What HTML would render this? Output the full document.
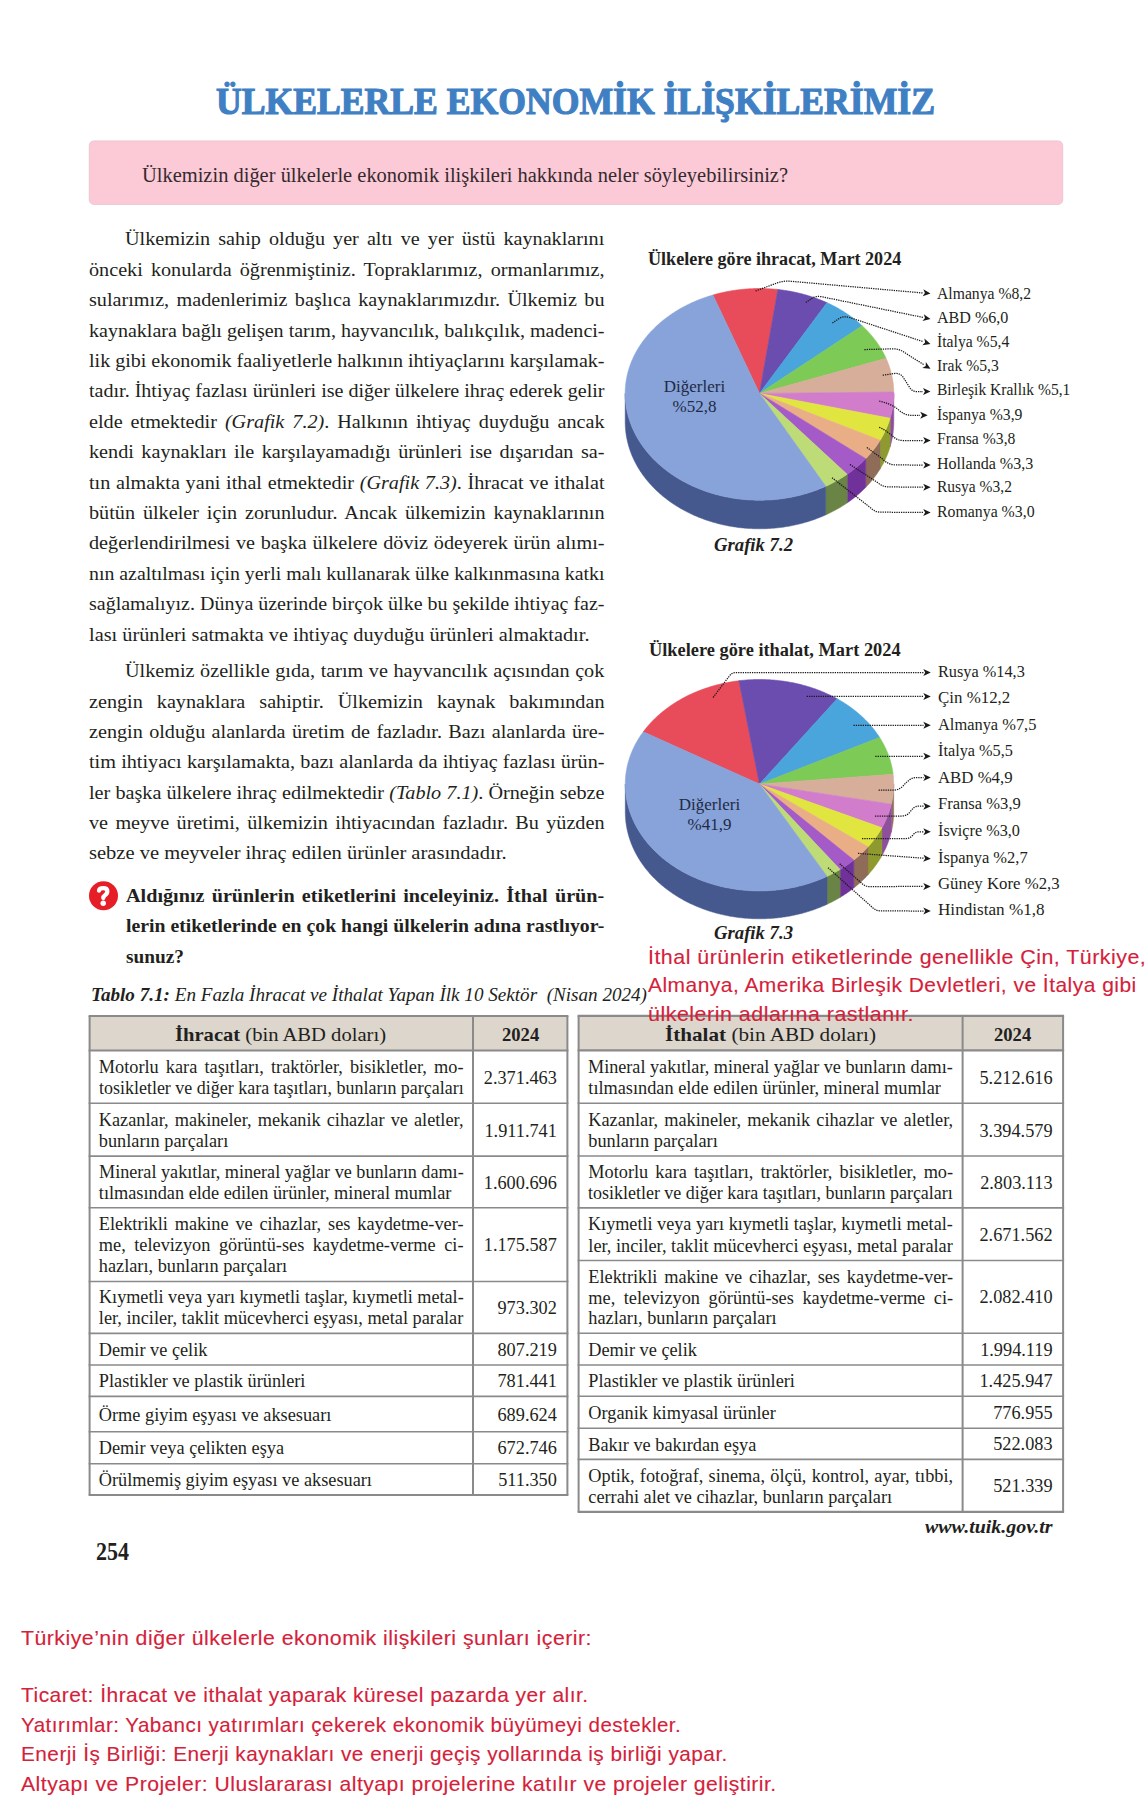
<!DOCTYPE html>
<html><head><meta charset="utf-8"><title>page</title>
<style>
html,body{margin:0;padding:0;background:#ffffff;}
body{width:1148px;height:1816px;position:relative;overflow:hidden;}
.t{position:absolute;white-space:nowrap;}
.j{white-space:normal;text-align:justify;text-align-last:justify;}
i{font-style:italic}
</style></head><body>
<svg width="1148" height="1816" viewBox="0 0 1148 1816" style="position:absolute;left:0;top:0">
<rect x="89.3" y="140.9" width="973.4" height="63.5" rx="4.5" ry="4.5" fill="#fccad7" stroke="#eac5cf" stroke-width="0.9"/>
<path d="M893.80 393.40 L893.79 394.33 L893.78 395.26 L893.75 396.18 L893.72 397.11 L893.67 398.04 L893.62 398.97 L893.55 399.89 L893.48 400.82 L893.39 401.74 L893.29 402.67 L893.19 403.59 L893.07 404.52 L892.94 405.44 L892.81 406.36 L892.66 407.28 L892.50 408.20 L892.34 409.12 L892.16 410.04 L891.97 410.95 L891.78 411.87 L891.57 412.78 L891.35 413.69 L891.13 414.60 L890.89 415.51 L890.64 416.42 L890.39 417.32 L890.12 418.23 L890.12 446.83 L890.39 445.92 L890.64 445.02 L890.89 444.11 L891.13 443.20 L891.35 442.29 L891.57 441.38 L891.78 440.47 L891.97 439.55 L892.16 438.64 L892.34 437.72 L892.50 436.80 L892.66 435.88 L892.81 434.96 L892.94 434.04 L893.07 433.12 L893.19 432.19 L893.29 431.27 L893.39 430.34 L893.48 429.42 L893.55 428.49 L893.62 427.57 L893.67 426.64 L893.72 425.71 L893.75 424.78 L893.78 423.86 L893.79 422.93 L893.80 422.00 Z" fill="#8e509c" stroke="#8e509c" stroke-width="0.5"/>
<path d="M890.12 418.23 L889.85 419.11 L889.57 419.98 L889.29 420.86 L888.99 421.73 L888.68 422.60 L888.37 423.47 L888.04 424.33 L887.71 425.19 L887.37 426.06 L887.02 426.92 L886.65 427.77 L886.28 428.63 L885.91 429.48 L885.52 430.33 L885.12 431.17 L884.71 432.02 L884.30 432.86 L883.87 433.70 L883.44 434.53 L883.00 435.36 L882.55 436.19 L882.09 437.02 L881.62 437.84 L881.14 438.66 L880.66 439.48 L880.16 440.29 L880.16 468.89 L880.66 468.08 L881.14 467.26 L881.62 466.44 L882.09 465.62 L882.55 464.79 L883.00 463.96 L883.44 463.13 L883.87 462.30 L884.30 461.46 L884.71 460.62 L885.12 459.77 L885.52 458.93 L885.91 458.08 L886.28 457.23 L886.65 456.37 L887.02 455.52 L887.37 454.66 L887.71 453.79 L888.04 452.93 L888.37 452.07 L888.68 451.20 L888.99 450.33 L889.29 449.46 L889.57 448.58 L889.85 447.71 L890.12 446.83 Z" fill="#8f9a2e" stroke="#8f9a2e" stroke-width="0.5"/>
<path d="M880.16 440.29 L879.66 441.10 L879.15 441.91 L878.63 442.72 L878.10 443.52 L877.56 444.31 L877.01 445.11 L876.46 445.90 L875.89 446.68 L875.32 447.47 L874.74 448.24 L874.15 449.02 L873.55 449.79 L872.95 450.56 L872.34 451.32 L871.72 452.08 L871.09 452.83 L870.45 453.58 L869.80 454.33 L869.15 455.07 L868.49 455.80 L867.82 456.54 L867.14 457.26 L866.46 457.99 L865.77 458.70 L865.77 487.30 L866.46 486.59 L867.14 485.86 L867.82 485.14 L868.49 484.40 L869.15 483.67 L869.80 482.93 L870.45 482.18 L871.09 481.43 L871.72 480.68 L872.34 479.92 L872.95 479.16 L873.55 478.39 L874.15 477.62 L874.74 476.84 L875.32 476.07 L875.89 475.28 L876.46 474.50 L877.01 473.71 L877.56 472.91 L878.10 472.12 L878.63 471.32 L879.15 470.51 L879.66 469.70 L880.16 468.89 Z" fill="#8f6c58" stroke="#8f6c58" stroke-width="0.5"/>
<path d="M865.77 458.70 L865.07 459.41 L864.37 460.12 L863.66 460.82 L862.95 461.51 L862.22 462.20 L861.49 462.88 L860.75 463.56 L860.01 464.24 L859.26 464.91 L858.50 465.57 L857.73 466.23 L856.96 466.88 L856.18 467.53 L855.39 468.18 L854.59 468.82 L853.79 469.45 L852.99 470.08 L852.17 470.70 L851.35 471.32 L850.52 471.93 L849.69 472.53 L848.85 473.13 L848.00 473.73 L847.15 474.32 L847.15 502.92 L848.00 502.33 L848.85 501.73 L849.69 501.13 L850.52 500.53 L851.35 499.92 L852.17 499.30 L852.99 498.68 L853.79 498.05 L854.59 497.42 L855.39 496.78 L856.18 496.13 L856.96 495.48 L857.73 494.83 L858.50 494.17 L859.26 493.51 L860.01 492.84 L860.75 492.16 L861.49 491.48 L862.22 490.80 L862.95 490.11 L863.66 489.42 L864.37 488.72 L865.07 488.01 L865.77 487.30 Z" fill="#71319a" stroke="#71319a" stroke-width="0.5"/>
<path d="M847.15 474.32 L846.29 474.91 L845.41 475.49 L844.53 476.07 L843.65 476.64 L842.76 477.20 L841.86 477.76 L840.95 478.31 L840.05 478.86 L839.13 479.40 L838.21 479.94 L837.28 480.46 L836.35 480.99 L835.41 481.50 L834.47 482.01 L833.52 482.51 L832.57 483.01 L831.61 483.50 L830.64 483.98 L829.67 484.46 L828.70 484.93 L827.72 485.39 L826.74 485.85 L825.75 486.30 L825.75 514.90 L826.74 514.45 L827.72 513.99 L828.70 513.53 L829.67 513.06 L830.64 512.58 L831.61 512.10 L832.57 511.61 L833.52 511.11 L834.47 510.61 L835.41 510.10 L836.35 509.59 L837.28 509.06 L838.21 508.54 L839.13 508.00 L840.05 507.46 L840.95 506.91 L841.86 506.36 L842.76 505.80 L843.65 505.24 L844.53 504.67 L845.41 504.09 L846.29 503.51 L847.15 502.92 Z" fill="#6a8446" stroke="#6a8446" stroke-width="0.5"/>
<path d="M825.75 486.30 L824.73 486.76 L823.71 487.20 L822.68 487.64 L821.64 488.08 L820.61 488.50 L819.57 488.92 L818.52 489.33 L817.47 489.74 L816.41 490.14 L815.35 490.53 L814.29 490.91 L813.22 491.28 L812.15 491.65 L811.07 492.01 L809.99 492.36 L808.91 492.71 L807.82 493.05 L806.73 493.38 L805.63 493.70 L804.54 494.02 L803.43 494.32 L802.33 494.62 L801.22 494.92 L800.11 495.20 L798.99 495.48 L797.88 495.75 L796.76 496.01 L795.63 496.26 L794.51 496.51 L793.38 496.75 L792.25 496.98 L791.11 497.20 L789.98 497.41 L788.84 497.62 L787.70 497.82 L786.56 498.01 L785.41 498.19 L784.27 498.37 L783.12 498.54 L781.97 498.70 L780.81 498.85 L779.66 498.99 L778.51 499.13 L777.35 499.25 L776.19 499.37 L775.03 499.48 L773.87 499.59 L772.71 499.68 L771.55 499.77 L770.38 499.85 L769.22 499.92 L768.06 499.98 L766.89 500.04 L765.72 500.09 L764.56 500.12 L763.39 500.16 L762.22 500.18 L761.05 500.19 L759.89 500.20 L758.72 500.20 L757.55 500.19 L756.38 500.17 L755.22 500.15 L754.05 500.11 L752.88 500.07 L751.72 500.02 L750.55 499.96 L749.39 499.90 L748.22 499.82 L747.06 499.74 L745.90 499.65 L744.74 499.55 L743.58 499.45 L742.42 499.33 L741.26 499.21 L740.11 499.08 L738.95 498.94 L737.80 498.80 L736.65 498.64 L735.50 498.48 L734.35 498.31 L733.20 498.13 L732.06 497.95 L730.92 497.75 L729.78 497.55 L728.64 497.34 L727.50 497.12 L726.37 496.90 L725.24 496.67 L724.11 496.43 L722.99 496.18 L721.87 495.92 L720.75 495.66 L719.63 495.39 L718.52 495.11 L717.41 494.82 L716.30 494.52 L715.19 494.22 L714.09 493.91 L713.00 493.59 L711.90 493.27 L710.81 492.93 L709.73 492.59 L708.64 492.25 L707.57 491.89 L706.49 491.53 L705.42 491.16 L704.35 490.78 L703.29 490.40 L702.23 490.00 L701.18 489.60 L700.13 489.20 L699.08 488.78 L698.04 488.36 L697.01 487.93 L695.98 487.50 L694.95 487.05 L693.93 486.60 L692.91 486.15 L691.90 485.68 L690.89 485.21 L689.89 484.74 L688.90 484.25 L687.91 483.76 L686.92 483.26 L685.94 482.76 L684.97 482.24 L684.00 481.72 L683.04 481.20 L682.08 480.67 L681.13 480.13 L680.18 479.58 L679.24 479.03 L678.31 478.47 L677.38 477.91 L676.46 477.34 L675.55 476.76 L674.64 476.18 L673.74 475.59 L672.84 474.99 L671.95 474.39 L671.07 473.78 L670.20 473.17 L669.33 472.55 L668.47 471.92 L667.61 471.29 L666.76 470.65 L665.92 470.00 L665.09 469.35 L664.26 468.70 L663.44 468.04 L662.63 467.37 L661.82 466.70 L661.03 466.02 L660.24 465.34 L659.45 464.65 L658.68 463.95 L657.91 463.25 L657.15 462.55 L656.40 461.84 L655.65 461.12 L654.92 460.40 L654.19 459.68 L653.47 458.95 L652.76 458.21 L652.05 457.47 L651.35 456.72 L650.67 455.97 L649.99 455.22 L649.31 454.46 L648.65 453.70 L648.00 452.93 L647.35 452.15 L646.71 451.38 L646.08 450.59 L645.46 449.81 L644.85 449.02 L644.24 448.22 L643.65 447.42 L643.06 446.62 L642.49 445.81 L641.92 445.00 L641.36 444.19 L640.81 443.37 L640.26 442.55 L639.73 441.72 L639.21 440.89 L638.69 440.06 L638.19 439.22 L637.69 438.38 L637.20 437.54 L636.73 436.69 L636.26 435.84 L635.80 434.98 L635.35 434.13 L634.91 433.27 L634.48 432.40 L634.06 431.54 L633.64 430.67 L633.24 429.80 L632.85 428.92 L632.46 428.05 L632.09 427.17 L631.72 426.28 L631.37 425.40 L631.03 424.51 L630.69 423.62 L630.36 422.73 L630.05 421.84 L629.74 420.94 L629.45 420.04 L629.16 419.14 L628.88 418.24 L628.62 417.34 L628.36 416.43 L628.11 415.52 L627.88 414.61 L627.65 413.70 L627.43 412.79 L627.23 411.88 L627.03 410.96 L626.84 410.05 L626.66 409.13 L626.50 408.21 L626.34 407.29 L626.19 406.37 L626.06 405.45 L625.93 404.52 L625.81 403.60 L625.71 402.67 L625.61 401.75 L625.52 400.82 L625.45 399.90 L625.38 398.97 L625.33 398.04 L625.28 397.11 L625.25 396.19 L625.22 395.26 L625.21 394.33 L625.20 393.40 L625.20 422.00 L625.21 422.93 L625.22 423.86 L625.25 424.79 L625.28 425.71 L625.33 426.64 L625.38 427.57 L625.45 428.50 L625.52 429.42 L625.61 430.35 L625.71 431.27 L625.81 432.20 L625.93 433.12 L626.06 434.05 L626.19 434.97 L626.34 435.89 L626.50 436.81 L626.66 437.73 L626.84 438.65 L627.03 439.56 L627.23 440.48 L627.43 441.39 L627.65 442.30 L627.88 443.21 L628.11 444.12 L628.36 445.03 L628.62 445.94 L628.88 446.84 L629.16 447.74 L629.45 448.64 L629.74 449.54 L630.05 450.44 L630.36 451.33 L630.69 452.22 L631.03 453.11 L631.37 454.00 L631.72 454.88 L632.09 455.77 L632.46 456.65 L632.85 457.52 L633.24 458.40 L633.64 459.27 L634.06 460.14 L634.48 461.00 L634.91 461.87 L635.35 462.73 L635.80 463.58 L636.26 464.44 L636.73 465.29 L637.20 466.14 L637.69 466.98 L638.19 467.82 L638.69 468.66 L639.21 469.49 L639.73 470.32 L640.26 471.15 L640.81 471.97 L641.36 472.79 L641.92 473.60 L642.49 474.41 L643.06 475.22 L643.65 476.02 L644.24 476.82 L644.85 477.62 L645.46 478.41 L646.08 479.19 L646.71 479.98 L647.35 480.75 L648.00 481.53 L648.65 482.30 L649.31 483.06 L649.99 483.82 L650.67 484.57 L651.35 485.32 L652.05 486.07 L652.76 486.81 L653.47 487.55 L654.19 488.28 L654.92 489.00 L655.65 489.72 L656.40 490.44 L657.15 491.15 L657.91 491.85 L658.68 492.55 L659.45 493.25 L660.24 493.94 L661.03 494.62 L661.82 495.30 L662.63 495.97 L663.44 496.64 L664.26 497.30 L665.09 497.95 L665.92 498.60 L666.76 499.25 L667.61 499.89 L668.47 500.52 L669.33 501.15 L670.20 501.77 L671.07 502.38 L671.95 502.99 L672.84 503.59 L673.74 504.19 L674.64 504.78 L675.55 505.36 L676.46 505.94 L677.38 506.51 L678.31 507.07 L679.24 507.63 L680.18 508.18 L681.13 508.73 L682.08 509.27 L683.04 509.80 L684.00 510.32 L684.97 510.84 L685.94 511.36 L686.92 511.86 L687.91 512.36 L688.90 512.85 L689.89 513.34 L690.89 513.81 L691.90 514.28 L692.91 514.75 L693.93 515.20 L694.95 515.65 L695.98 516.10 L697.01 516.53 L698.04 516.96 L699.08 517.38 L700.13 517.80 L701.18 518.20 L702.23 518.60 L703.29 519.00 L704.35 519.38 L705.42 519.76 L706.49 520.13 L707.57 520.49 L708.64 520.85 L709.73 521.19 L710.81 521.53 L711.90 521.87 L713.00 522.19 L714.09 522.51 L715.19 522.82 L716.30 523.12 L717.41 523.42 L718.52 523.71 L719.63 523.99 L720.75 524.26 L721.87 524.52 L722.99 524.78 L724.11 525.03 L725.24 525.27 L726.37 525.50 L727.50 525.72 L728.64 525.94 L729.78 526.15 L730.92 526.35 L732.06 526.55 L733.20 526.73 L734.35 526.91 L735.50 527.08 L736.65 527.24 L737.80 527.40 L738.95 527.54 L740.11 527.68 L741.26 527.81 L742.42 527.93 L743.58 528.05 L744.74 528.15 L745.90 528.25 L747.06 528.34 L748.22 528.42 L749.39 528.50 L750.55 528.56 L751.72 528.62 L752.88 528.67 L754.05 528.71 L755.22 528.75 L756.38 528.77 L757.55 528.79 L758.72 528.80 L759.89 528.80 L761.05 528.79 L762.22 528.78 L763.39 528.76 L764.56 528.72 L765.72 528.69 L766.89 528.64 L768.06 528.58 L769.22 528.52 L770.38 528.45 L771.55 528.37 L772.71 528.28 L773.87 528.19 L775.03 528.08 L776.19 527.97 L777.35 527.85 L778.51 527.73 L779.66 527.59 L780.81 527.45 L781.97 527.30 L783.12 527.14 L784.27 526.97 L785.41 526.79 L786.56 526.61 L787.70 526.42 L788.84 526.22 L789.98 526.01 L791.11 525.80 L792.25 525.58 L793.38 525.35 L794.51 525.11 L795.63 524.86 L796.76 524.61 L797.88 524.35 L798.99 524.08 L800.11 523.80 L801.22 523.52 L802.33 523.22 L803.43 522.92 L804.54 522.62 L805.63 522.30 L806.73 521.98 L807.82 521.65 L808.91 521.31 L809.99 520.96 L811.07 520.61 L812.15 520.25 L813.22 519.88 L814.29 519.51 L815.35 519.13 L816.41 518.74 L817.47 518.34 L818.52 517.93 L819.57 517.52 L820.61 517.10 L821.64 516.68 L822.68 516.24 L823.71 515.80 L824.73 515.36 L825.75 514.90 Z" fill="#46598f" stroke="#46598f" stroke-width="0.5"/>
<path d="M759.50 393.40 L712.94 295.01 L714.03 294.70 L715.12 294.39 L716.21 294.10 L717.31 293.81 L718.41 293.53 L719.52 293.26 L720.63 292.99 L721.74 292.73 L722.85 292.48 L723.97 292.24 L725.08 292.00 L726.20 291.77 L727.33 291.55 L728.45 291.34 L729.58 291.14 L730.71 290.94 L731.85 290.75 L732.98 290.57 L734.12 290.39 L735.25 290.22 L736.40 290.06 L737.54 289.91 L738.68 289.77 L739.83 289.63 L740.97 289.50 L742.12 289.38 L743.27 289.27 L744.42 289.16 L745.57 289.07 L746.73 288.98 L747.88 288.89 L749.03 288.82 L750.19 288.75 L751.34 288.69 L752.50 288.64 L753.66 288.60 L754.82 288.56 L755.97 288.54 L757.13 288.52 L758.29 288.50 L759.45 288.50 L760.61 288.50 L761.77 288.51 L762.92 288.53 L764.08 288.56 L765.24 288.60 L766.40 288.64 L767.55 288.69 L768.71 288.75 L769.86 288.81 L771.02 288.89 L772.17 288.97 L773.33 289.06 L774.48 289.15 L775.63 289.26 L776.78 289.37 L777.93 289.49 Z" fill="#e84b59" stroke="#e84b59" stroke-width="0.6" stroke-linejoin="round"/>
<path d="M759.50 393.40 L777.93 289.49 L779.07 289.62 L780.22 289.76 L781.37 289.90 L782.51 290.05 L783.65 290.21 L784.79 290.38 L785.93 290.55 L787.07 290.73 L788.20 290.92 L789.33 291.12 L790.46 291.33 L791.59 291.54 L792.71 291.76 L793.84 291.99 L794.96 292.22 L796.07 292.47 L797.19 292.72 L798.30 292.97 L799.41 293.24 L800.52 293.51 L801.62 293.79 L802.72 294.08 L803.82 294.38 L804.91 294.68 L806.00 294.99 L807.09 295.31 L808.17 295.63 L809.25 295.96 L810.32 296.30 L811.40 296.65 L812.46 297.00 L813.53 297.36 L814.59 297.73 L815.64 298.11 L816.69 298.49 L817.74 298.88 L818.78 299.27 L819.82 299.68 L820.86 300.09 L821.89 300.51 L822.91 300.93 L823.93 301.36 L824.95 301.80 L825.96 302.24 L826.96 302.70 Z" fill="#6a4dae" stroke="#6a4dae" stroke-width="0.6" stroke-linejoin="round"/>
<path d="M759.50 393.40 L826.96 302.70 L827.96 303.15 L828.95 303.62 L829.94 304.09 L830.92 304.56 L831.90 305.05 L832.87 305.54 L833.84 306.03 L834.80 306.54 L835.75 307.05 L836.70 307.56 L837.64 308.09 L838.58 308.61 L839.51 309.15 L840.44 309.69 L841.36 310.24 L842.27 310.79 L843.18 311.35 L844.08 311.92 L844.98 312.49 L845.86 313.07 L846.75 313.65 L847.62 314.24 L848.49 314.84 L849.35 315.44 L850.21 316.04 L851.06 316.66 L851.90 317.28 L852.74 317.90 L853.57 318.53 L854.39 319.17 L855.20 319.81 L856.01 320.45 L856.81 321.10 L857.60 321.76 L858.39 322.42 L859.17 323.09 L859.94 323.76 L860.70 324.44 L861.46 325.13 L862.21 325.81 Z" fill="#4aa5dc" stroke="#4aa5dc" stroke-width="0.6" stroke-linejoin="round"/>
<path d="M759.50 393.40 L862.21 325.81 L862.95 326.50 L863.68 327.20 L864.40 327.90 L865.11 328.60 L865.82 329.31 L866.52 330.02 L867.21 330.74 L867.89 331.46 L868.57 332.19 L869.23 332.92 L869.89 333.66 L870.54 334.40 L871.19 335.14 L871.82 335.89 L872.45 336.65 L873.06 337.40 L873.67 338.16 L874.28 338.93 L874.87 339.70 L875.45 340.47 L876.03 341.25 L876.60 342.03 L877.15 342.82 L877.70 343.61 L878.25 344.40 L878.78 345.19 L879.30 345.99 L879.82 346.80 L880.32 347.60 L880.82 348.41 L881.31 349.22 L881.79 350.04 L882.26 350.86 L882.72 351.68 L883.18 352.51 L883.62 353.34 L884.05 354.17 L884.48 355.00 L884.90 355.84 L885.30 356.68 L885.70 357.52 L886.09 358.37 Z" fill="#7dca57" stroke="#7dca57" stroke-width="0.6" stroke-linejoin="round"/>
<path d="M759.50 393.40 L886.09 358.37 L886.47 359.22 L886.85 360.08 L887.21 360.94 L887.56 361.80 L887.91 362.67 L888.24 363.53 L888.57 364.40 L888.88 365.27 L889.19 366.15 L889.49 367.02 L889.77 367.90 L890.05 368.78 L890.32 369.66 L890.57 370.54 L890.82 371.43 L891.06 372.32 L891.29 373.20 L891.51 374.09 L891.71 374.98 L891.91 375.88 L892.10 376.77 L892.28 377.66 L892.45 378.56 L892.61 379.46 L892.76 380.35 L892.90 381.25 L893.03 382.15 L893.15 383.05 L893.25 383.96 L893.35 384.86 L893.44 385.76 L893.52 386.66 L893.59 387.57 L893.65 388.47 L893.70 389.38 L893.74 390.28 L893.77 391.19 L893.79 392.09 Z" fill="#d6ae9a" stroke="#d6ae9a" stroke-width="0.6" stroke-linejoin="round"/>
<path d="M759.50 393.40 L893.79 392.09 L893.80 392.99 L893.80 393.89 L893.79 394.80 L893.77 395.71 L893.74 396.62 L893.70 397.53 L893.65 398.44 L893.59 399.35 L893.52 400.25 L893.44 401.16 L893.36 402.07 L893.26 402.98 L893.15 403.88 L893.03 404.79 L892.91 405.69 L892.77 406.59 L892.62 407.50 L892.47 408.40 L892.30 409.30 L892.13 410.20 L891.94 411.10 L891.75 411.99 L891.55 412.89 L891.33 413.78 L891.11 414.67 L890.88 415.57 L890.63 416.45 L890.38 417.34 L890.12 418.23 Z" fill="#d27ccc" stroke="#d27ccc" stroke-width="0.6" stroke-linejoin="round"/>
<path d="M759.50 393.40 L890.12 418.23 L889.85 419.11 L889.57 419.98 L889.29 420.86 L888.99 421.73 L888.68 422.60 L888.37 423.47 L888.04 424.33 L887.71 425.19 L887.37 426.06 L887.02 426.92 L886.65 427.77 L886.28 428.63 L885.91 429.48 L885.52 430.33 L885.12 431.17 L884.71 432.02 L884.30 432.86 L883.87 433.70 L883.44 434.53 L883.00 435.36 L882.55 436.19 L882.09 437.02 L881.62 437.84 L881.14 438.66 L880.66 439.48 L880.16 440.29 Z" fill="#e0e63f" stroke="#e0e63f" stroke-width="0.6" stroke-linejoin="round"/>
<path d="M759.50 393.40 L880.16 440.29 L879.66 441.10 L879.15 441.91 L878.63 442.72 L878.10 443.52 L877.56 444.31 L877.01 445.11 L876.46 445.90 L875.89 446.68 L875.32 447.47 L874.74 448.24 L874.15 449.02 L873.55 449.79 L872.95 450.56 L872.34 451.32 L871.72 452.08 L871.09 452.83 L870.45 453.58 L869.80 454.33 L869.15 455.07 L868.49 455.80 L867.82 456.54 L867.14 457.26 L866.46 457.99 L865.77 458.70 Z" fill="#eaae86" stroke="#eaae86" stroke-width="0.6" stroke-linejoin="round"/>
<path d="M759.50 393.40 L865.77 458.70 L865.07 459.41 L864.37 460.12 L863.66 460.82 L862.95 461.51 L862.22 462.20 L861.49 462.88 L860.75 463.56 L860.01 464.24 L859.26 464.91 L858.50 465.57 L857.73 466.23 L856.96 466.88 L856.18 467.53 L855.39 468.18 L854.59 468.82 L853.79 469.45 L852.99 470.08 L852.17 470.70 L851.35 471.32 L850.52 471.93 L849.69 472.53 L848.85 473.13 L848.00 473.73 L847.15 474.32 Z" fill="#a45ac7" stroke="#a45ac7" stroke-width="0.6" stroke-linejoin="round"/>
<path d="M759.50 393.40 L847.15 474.32 L846.29 474.91 L845.41 475.49 L844.53 476.07 L843.65 476.64 L842.76 477.20 L841.86 477.76 L840.95 478.31 L840.05 478.86 L839.13 479.40 L838.21 479.94 L837.28 480.46 L836.35 480.99 L835.41 481.50 L834.47 482.01 L833.52 482.51 L832.57 483.01 L831.61 483.50 L830.64 483.98 L829.67 484.46 L828.70 484.93 L827.72 485.39 L826.74 485.85 L825.75 486.30 Z" fill="#bddc78" stroke="#bddc78" stroke-width="0.6" stroke-linejoin="round"/>
<path d="M759.50 393.40 L825.75 486.30 L824.73 486.76 L823.70 487.21 L822.67 487.65 L821.63 488.08 L820.59 488.51 L819.55 488.93 L818.50 489.34 L817.45 489.75 L816.39 490.15 L815.33 490.54 L814.26 490.92 L813.19 491.29 L812.11 491.66 L811.03 492.02 L809.95 492.38 L808.86 492.72 L807.77 493.06 L806.68 493.39 L805.58 493.72 L804.48 494.03 L803.38 494.34 L802.27 494.64 L801.16 494.93 L800.04 495.22 L798.93 495.49 L797.80 495.76 L796.68 496.03 L795.55 496.28 L794.43 496.53 L793.29 496.76 L792.16 496.99 L791.02 497.22 L789.88 497.43 L788.74 497.64 L787.60 497.84 L786.45 498.03 L785.31 498.21 L784.16 498.38 L783.00 498.55 L781.85 498.71 L780.70 498.86 L779.54 499.00 L778.38 499.14 L777.22 499.27 L776.06 499.38 L774.90 499.50 L773.74 499.60 L772.57 499.69 L771.41 499.78 L770.24 499.86 L769.07 499.93 L767.90 499.99 L766.73 500.04 L765.57 500.09 L764.40 500.13 L763.23 500.16 L762.06 500.18 L760.89 500.19 L759.72 500.20 L758.54 500.20 L757.37 500.19 L756.20 500.17 L755.03 500.14 L753.86 500.11 L752.69 500.06 L751.53 500.01 L750.36 499.95 L749.19 499.88 L748.02 499.81 L746.86 499.73 L745.69 499.63 L744.53 499.53 L743.37 499.43 L742.20 499.31 L741.04 499.19 L739.89 499.05 L738.73 498.91 L737.57 498.77 L736.42 498.61 L735.27 498.45 L734.12 498.27 L732.97 498.10 L731.82 497.91 L730.68 497.71 L729.53 497.51 L728.39 497.30 L727.26 497.08 L726.12 496.85 L724.99 496.61 L723.86 496.37 L722.73 496.12 L721.61 495.86 L720.49 495.59 L719.37 495.32 L718.25 495.04 L717.14 494.75 L716.03 494.45 L714.92 494.15 L713.82 493.83 L712.72 493.51 L711.63 493.18 L710.54 492.85 L709.45 492.51 L708.36 492.15 L707.28 491.80 L706.21 491.43 L705.13 491.06 L704.07 490.68 L703.00 490.29 L701.94 489.89 L700.89 489.49 L699.84 489.08 L698.79 488.66 L697.75 488.24 L696.71 487.81 L695.68 487.37 L694.65 486.92 L693.63 486.47 L692.61 486.01 L691.60 485.54 L690.59 485.07 L689.59 484.59 L688.59 484.10 L687.60 483.61 L686.61 483.10 L685.63 482.59 L684.66 482.08 L683.69 481.56 L682.73 481.03 L681.77 480.49 L680.82 479.95 L679.87 479.40 L678.93 478.85 L678.00 478.29 L677.07 477.72 L676.15 477.14 L675.24 476.56 L674.33 475.97 L673.43 475.38 L672.53 474.78 L671.64 474.18 L670.76 473.56 L669.88 472.95 L669.02 472.32 L668.15 471.69 L667.30 471.05 L666.45 470.41 L665.61 469.77 L664.78 469.11 L663.95 468.45 L663.13 467.79 L662.32 467.12 L661.52 466.44 L660.72 465.76 L659.93 465.07 L659.15 464.38 L658.37 463.68 L657.61 462.98 L656.85 462.27 L656.10 461.55 L655.36 460.83 L654.62 460.11 L653.89 459.38 L653.17 458.64 L652.46 457.91 L651.76 457.16 L651.07 456.41 L650.38 455.66 L649.70 454.90 L649.03 454.14 L648.37 453.37 L647.72 452.60 L647.07 451.82 L646.44 451.04 L645.81 450.25 L645.19 449.46 L644.58 448.67 L643.98 447.87 L643.39 447.06 L642.80 446.26 L642.23 445.45 L641.66 444.63 L641.10 443.81 L640.56 442.99 L640.02 442.16 L639.49 441.33 L638.97 440.50 L638.45 439.66 L637.95 438.82 L637.46 437.98 L636.97 437.13 L636.50 436.28 L636.03 435.43 L635.58 434.57 L635.13 433.71 L634.70 432.84 L634.27 431.98 L633.85 431.11 L633.44 430.24 L633.04 429.36 L632.65 428.48 L632.27 427.60 L631.90 426.72 L631.54 425.83 L631.19 424.95 L630.85 424.06 L630.52 423.16 L630.20 422.27 L629.89 421.37 L629.59 420.47 L629.29 419.57 L629.01 418.67 L628.74 417.76 L628.48 416.85 L628.23 415.94 L627.98 415.03 L627.75 414.12 L627.53 413.21 L627.32 412.29 L627.12 411.37 L626.92 410.46 L626.74 409.54 L626.57 408.62 L626.41 407.69 L626.26 406.77 L626.12 405.85 L625.98 404.92 L625.86 404.00 L625.75 403.07 L625.65 402.14 L625.56 401.21 L625.48 400.29 L625.41 399.36 L625.35 398.43 L625.30 397.50 L625.26 396.57 L625.23 395.64 L625.21 394.70 L625.20 393.77 L625.20 392.85 L625.21 391.94 L625.23 391.02 L625.27 390.11 L625.31 389.20 L625.36 388.28 L625.42 387.37 L625.49 386.46 L625.58 385.55 L625.67 384.63 L625.77 383.72 L625.89 382.81 L626.01 381.90 L626.14 381.00 L626.29 380.09 L626.44 379.18 L626.60 378.28 L626.78 377.37 L626.96 376.47 L627.15 375.57 L627.36 374.67 L627.57 373.77 L627.80 372.87 L628.03 371.98 L628.28 371.08 L628.53 370.19 L628.79 369.30 L629.07 368.41 L629.35 367.52 L629.64 366.64 L629.95 365.75 L630.26 364.87 L630.58 363.99 L630.92 363.12 L631.26 362.24 L631.61 361.37 L631.98 360.50 L632.35 359.63 L632.73 358.77 L633.12 357.91 L633.52 357.05 L633.93 356.19 L634.35 355.34 L634.78 354.49 L635.22 353.64 L635.67 352.80 L636.13 351.96 L636.59 351.12 L637.07 350.28 L637.56 349.45 L638.05 348.62 L638.55 347.80 L639.07 346.98 L639.59 346.16 L640.12 345.34 L640.66 344.53 L641.21 343.72 L641.77 342.92 L642.34 342.12 L642.92 341.33 L643.50 340.53 L644.10 339.75 L644.70 338.96 L645.31 338.18 L645.93 337.41 L646.56 336.64 L647.20 335.87 L647.84 335.11 L648.50 334.35 L649.16 333.60 L649.83 332.85 L650.51 332.10 L651.20 331.36 L651.90 330.63 L652.60 329.90 L653.32 329.17 L654.04 328.45 L654.77 327.74 L655.50 327.03 L656.25 326.32 L657.00 325.62 L657.76 324.93 L658.53 324.24 L659.30 323.55 L660.09 322.87 L660.88 322.20 L661.67 321.53 L662.48 320.87 L663.29 320.21 L664.11 319.56 L664.94 318.91 L665.78 318.27 L666.62 317.63 L667.47 317.00 L668.32 316.38 L669.19 315.76 L670.06 315.15 L670.93 314.54 L671.82 313.94 L672.71 313.35 L673.60 312.76 L674.51 312.18 L675.42 311.60 L676.33 311.04 L677.25 310.47 L678.18 309.92 L679.12 309.37 L680.06 308.82 L681.00 308.28 L681.96 307.75 L682.92 307.23 L683.88 306.71 L684.85 306.20 L685.83 305.69 L686.81 305.19 L687.79 304.70 L688.79 304.22 L689.79 303.74 L690.79 303.27 L691.80 302.80 L692.81 302.35 L693.83 301.90 L694.85 301.45 L695.88 301.02 L696.91 300.59 L697.95 300.16 L698.99 299.75 L700.04 299.34 L701.09 298.94 L702.15 298.55 L703.21 298.16 L704.28 297.78 L705.35 297.41 L706.42 297.04 L707.50 296.68 L708.58 296.33 L709.66 295.99 L710.75 295.65 L711.84 295.33 L712.94 295.01 Z" fill="#87a3da" stroke="#87a3da" stroke-width="0.6" stroke-linejoin="round"/>
<path d="M893.70 784.10 L893.70 785.02 L893.68 785.93 L893.66 786.85 L893.62 787.76 L893.58 788.68 L893.52 789.59 L893.46 790.51 L893.38 791.42 L893.30 792.34 L893.21 793.25 L893.10 794.16 L892.99 795.07 L892.87 795.99 L892.73 796.90 L892.59 797.80 L892.44 798.71 L892.28 799.62 L892.10 800.52 L891.92 801.43 L891.73 802.33 L891.53 803.23 L891.32 804.14 L891.32 832.04 L891.53 831.13 L891.73 830.23 L891.92 829.33 L892.10 828.42 L892.28 827.52 L892.44 826.61 L892.59 825.70 L892.73 824.80 L892.87 823.89 L892.99 822.97 L893.10 822.06 L893.21 821.15 L893.30 820.24 L893.38 819.32 L893.46 818.41 L893.52 817.49 L893.58 816.58 L893.62 815.66 L893.66 814.75 L893.68 813.83 L893.70 812.92 L893.70 812.00 Z" fill="#8f705f" stroke="#8f705f" stroke-width="0.5"/>
<path d="M891.32 804.14 L891.10 805.04 L890.86 805.94 L890.62 806.84 L890.37 807.74 L890.11 808.64 L889.84 809.53 L889.56 810.43 L889.27 811.32 L888.97 812.21 L888.66 813.10 L888.34 813.98 L888.01 814.87 L887.67 815.75 L887.33 816.63 L886.97 817.50 L886.60 818.38 L886.22 819.25 L885.84 820.12 L885.44 820.98 L885.04 821.84 L884.63 822.70 L884.20 823.56 L883.77 824.42 L883.33 825.27 L882.88 826.12 L882.42 826.96 L881.95 827.80 L881.95 855.70 L882.42 854.86 L882.88 854.02 L883.33 853.17 L883.77 852.32 L884.20 851.46 L884.63 850.60 L885.04 849.74 L885.44 848.88 L885.84 848.02 L886.22 847.15 L886.60 846.28 L886.97 845.40 L887.33 844.53 L887.67 843.65 L888.01 842.77 L888.34 841.88 L888.66 841.00 L888.97 840.11 L889.27 839.22 L889.56 838.33 L889.84 837.43 L890.11 836.54 L890.37 835.64 L890.62 834.74 L890.86 833.84 L891.10 832.94 L891.32 832.04 Z" fill="#8e509c" stroke="#8e509c" stroke-width="0.5"/>
<path d="M881.95 827.80 L881.47 828.64 L880.99 829.48 L880.49 830.31 L879.99 831.13 L879.47 831.96 L878.95 832.78 L878.42 833.60 L877.88 834.41 L877.33 835.22 L876.77 836.02 L876.21 836.83 L875.63 837.62 L875.05 838.42 L874.46 839.21 L873.86 839.99 L873.25 840.77 L872.63 841.55 L872.00 842.32 L871.37 843.09 L870.73 843.86 L870.08 844.62 L869.42 845.37 L868.75 846.12 L868.07 846.87 L868.07 874.77 L868.75 874.02 L869.42 873.27 L870.08 872.52 L870.73 871.76 L871.37 870.99 L872.00 870.22 L872.63 869.45 L873.25 868.67 L873.86 867.89 L874.46 867.11 L875.05 866.32 L875.63 865.52 L876.21 864.73 L876.77 863.92 L877.33 863.12 L877.88 862.31 L878.42 861.50 L878.95 860.68 L879.47 859.86 L879.99 859.03 L880.49 858.21 L880.99 857.38 L881.47 856.54 L881.95 855.70 Z" fill="#8f9a2e" stroke="#8f9a2e" stroke-width="0.5"/>
<path d="M868.07 846.87 L867.39 847.61 L866.70 848.35 L866.01 849.08 L865.30 849.80 L864.59 850.52 L863.87 851.24 L863.14 851.95 L862.40 852.66 L861.66 853.36 L860.90 854.05 L860.15 854.75 L859.38 855.43 L858.61 856.11 L857.82 856.79 L857.04 857.46 L856.24 858.12 L855.44 858.78 L854.63 859.43 L853.81 860.08 L853.81 887.98 L854.63 887.33 L855.44 886.68 L856.24 886.02 L857.04 885.36 L857.82 884.69 L858.61 884.01 L859.38 883.33 L860.15 882.65 L860.90 881.95 L861.66 881.26 L862.40 880.56 L863.14 879.85 L863.87 879.14 L864.59 878.42 L865.30 877.70 L866.01 876.98 L866.70 876.25 L867.39 875.51 L868.07 874.77 Z" fill="#8f6c58" stroke="#8f6c58" stroke-width="0.5"/>
<path d="M853.81 860.08 L853.00 860.71 L852.18 861.34 L851.36 861.96 L850.53 862.57 L849.69 863.18 L848.85 863.79 L848.00 864.38 L847.15 864.98 L846.29 865.56 L845.42 866.14 L844.54 866.72 L843.66 867.29 L842.78 867.85 L841.89 868.41 L840.99 868.96 L840.09 869.50 L840.09 897.40 L840.99 896.86 L841.89 896.31 L842.78 895.75 L843.66 895.19 L844.54 894.62 L845.42 894.04 L846.29 893.46 L847.15 892.88 L848.00 892.28 L848.85 891.69 L849.69 891.08 L850.53 890.47 L851.36 889.86 L852.18 889.24 L853.00 888.61 L853.81 887.98 Z" fill="#71319a" stroke="#71319a" stroke-width="0.5"/>
<path d="M840.09 869.50 L839.19 870.03 L838.29 870.56 L837.38 871.08 L836.47 871.59 L835.55 872.09 L834.63 872.60 L833.70 873.09 L832.77 873.58 L831.83 874.06 L830.89 874.54 L829.94 875.01 L828.99 875.47 L828.03 875.93 L827.07 876.38 L827.07 904.28 L828.03 903.83 L828.99 903.37 L829.94 902.91 L830.89 902.44 L831.83 901.96 L832.77 901.48 L833.70 900.99 L834.63 900.50 L835.55 899.99 L836.47 899.49 L837.38 898.98 L838.29 898.46 L839.19 897.93 L840.09 897.40 Z" fill="#6a8446" stroke="#6a8446" stroke-width="0.5"/>
<path d="M827.07 876.38 L826.05 876.84 L825.04 877.30 L824.01 877.75 L822.99 878.19 L821.95 878.63 L820.92 879.06 L819.88 879.48 L818.83 879.90 L817.78 880.30 L816.73 880.70 L815.67 881.10 L814.60 881.48 L813.54 881.86 L812.46 882.23 L811.39 882.59 L810.31 882.95 L809.23 883.30 L808.14 883.64 L807.05 883.97 L805.95 884.30 L804.86 884.62 L803.75 884.93 L802.65 885.23 L801.54 885.52 L800.43 885.81 L799.32 886.09 L798.20 886.36 L797.08 886.63 L795.95 886.88 L794.83 887.13 L793.70 887.37 L792.57 887.61 L791.44 887.83 L790.30 888.05 L789.16 888.26 L788.02 888.46 L786.88 888.65 L785.73 888.84 L784.59 889.02 L783.44 889.19 L782.29 889.35 L781.13 889.50 L779.98 889.65 L778.82 889.79 L777.67 889.92 L776.51 890.04 L775.35 890.15 L774.19 890.26 L773.03 890.36 L771.86 890.45 L770.70 890.53 L769.53 890.60 L768.37 890.67 L767.20 890.72 L766.04 890.77 L764.87 890.81 L763.70 890.85 L762.53 890.87 L761.36 890.89 L760.20 890.90 L759.03 890.90 L757.86 890.89 L756.69 890.88 L755.52 890.85 L754.35 890.82 L753.19 890.78 L752.02 890.73 L750.85 890.68 L749.69 890.61 L748.52 890.54 L747.36 890.46 L746.20 890.37 L745.03 890.28 L743.87 890.17 L742.71 890.06 L741.55 889.94 L740.40 889.81 L739.24 889.68 L738.09 889.53 L736.93 889.38 L735.78 889.22 L734.63 889.05 L733.49 888.87 L732.34 888.69 L731.20 888.50 L730.06 888.30 L728.92 888.09 L727.78 887.87 L726.65 887.65 L725.51 887.42 L724.39 887.18 L723.26 886.93 L722.14 886.68 L721.01 886.41 L719.90 886.14 L718.78 885.87 L717.67 885.58 L716.56 885.29 L715.46 884.98 L714.35 884.68 L713.26 884.36 L712.16 884.03 L711.07 883.70 L709.98 883.36 L708.90 883.02 L707.82 882.66 L706.74 882.30 L705.67 881.93 L704.60 881.55 L703.54 881.17 L702.48 880.78 L701.42 880.38 L700.37 879.97 L699.32 879.56 L698.28 879.14 L697.24 878.71 L696.21 878.28 L695.18 877.83 L694.16 877.39 L693.14 876.93 L692.13 876.47 L691.12 876.00 L690.12 875.52 L689.12 875.03 L688.13 874.54 L687.14 874.04 L686.16 873.54 L685.18 873.03 L684.21 872.51 L683.25 871.98 L682.29 871.45 L681.34 870.91 L680.39 870.37 L679.45 869.82 L678.51 869.26 L677.59 868.70 L676.66 868.13 L675.75 867.55 L674.84 866.96 L673.93 866.37 L673.04 865.78 L672.15 865.18 L671.26 864.57 L670.39 863.95 L669.52 863.33 L668.65 862.71 L667.80 862.07 L666.95 861.44 L666.10 860.79 L665.27 860.14 L664.44 859.49 L663.62 858.82 L662.80 858.16 L662.00 857.48 L661.20 856.81 L660.41 856.12 L659.62 855.43 L658.85 854.74 L658.08 854.04 L657.32 853.33 L656.56 852.62 L655.82 851.91 L655.08 851.18 L654.35 850.46 L653.63 849.73 L652.91 848.99 L652.21 848.25 L651.51 847.50 L650.82 846.75 L650.14 846.00 L649.46 845.24 L648.80 844.47 L648.14 843.70 L647.50 842.93 L646.86 842.15 L646.23 841.37 L645.60 840.58 L644.99 839.79 L644.38 838.99 L643.79 838.20 L643.20 837.39 L642.62 836.58 L642.05 835.77 L641.49 834.96 L640.94 834.14 L640.40 833.31 L639.86 832.49 L639.34 831.65 L638.82 830.82 L638.32 829.98 L637.82 829.14 L637.33 828.30 L636.85 827.45 L636.38 826.60 L635.92 825.74 L635.47 824.88 L635.03 824.02 L634.60 823.16 L634.17 822.29 L633.76 821.42 L633.36 820.55 L632.96 819.67 L632.58 818.80 L632.20 817.91 L631.84 817.03 L631.48 816.15 L631.14 815.26 L630.80 814.37 L630.48 813.47 L630.16 812.58 L629.85 811.68 L629.56 810.78 L629.27 809.88 L628.99 808.98 L628.72 808.07 L628.47 807.16 L628.22 806.26 L627.98 805.35 L627.75 804.43 L627.54 803.52 L627.33 802.60 L627.13 801.69 L626.94 800.77 L626.77 799.85 L626.60 798.93 L626.44 798.01 L626.30 797.09 L626.16 796.16 L626.03 795.24 L625.92 794.31 L625.81 793.39 L625.71 792.46 L625.63 791.53 L625.55 790.61 L625.48 789.68 L625.43 788.75 L625.38 787.82 L625.35 786.89 L625.32 785.96 L625.31 785.03 L625.30 784.10 L625.30 812.00 L625.31 812.93 L625.32 813.86 L625.35 814.79 L625.38 815.72 L625.43 816.65 L625.48 817.58 L625.55 818.51 L625.63 819.43 L625.71 820.36 L625.81 821.29 L625.92 822.21 L626.03 823.14 L626.16 824.06 L626.30 824.99 L626.44 825.91 L626.60 826.83 L626.77 827.75 L626.94 828.67 L627.13 829.59 L627.33 830.50 L627.54 831.42 L627.75 832.33 L627.98 833.25 L628.22 834.16 L628.47 835.06 L628.72 835.97 L628.99 836.88 L629.27 837.78 L629.56 838.68 L629.85 839.58 L630.16 840.48 L630.48 841.37 L630.80 842.27 L631.14 843.16 L631.48 844.05 L631.84 844.93 L632.20 845.81 L632.58 846.70 L632.96 847.57 L633.36 848.45 L633.76 849.32 L634.17 850.19 L634.60 851.06 L635.03 851.92 L635.47 852.78 L635.92 853.64 L636.38 854.50 L636.85 855.35 L637.33 856.20 L637.82 857.04 L638.32 857.88 L638.82 858.72 L639.34 859.55 L639.86 860.39 L640.40 861.21 L640.94 862.04 L641.49 862.86 L642.05 863.67 L642.62 864.48 L643.20 865.29 L643.79 866.10 L644.38 866.89 L644.99 867.69 L645.60 868.48 L646.23 869.27 L646.86 870.05 L647.50 870.83 L648.14 871.60 L648.80 872.37 L649.46 873.14 L650.14 873.90 L650.82 874.65 L651.51 875.40 L652.21 876.15 L652.91 876.89 L653.63 877.63 L654.35 878.36 L655.08 879.08 L655.82 879.81 L656.56 880.52 L657.32 881.23 L658.08 881.94 L658.85 882.64 L659.62 883.33 L660.41 884.02 L661.20 884.71 L662.00 885.38 L662.80 886.06 L663.62 886.72 L664.44 887.39 L665.27 888.04 L666.10 888.69 L666.95 889.34 L667.80 889.97 L668.65 890.61 L669.52 891.23 L670.39 891.85 L671.26 892.47 L672.15 893.08 L673.04 893.68 L673.93 894.27 L674.84 894.86 L675.75 895.45 L676.66 896.03 L677.59 896.60 L678.51 897.16 L679.45 897.72 L680.39 898.27 L681.34 898.81 L682.29 899.35 L683.25 899.88 L684.21 900.41 L685.18 900.93 L686.16 901.44 L687.14 901.94 L688.13 902.44 L689.12 902.93 L690.12 903.42 L691.12 903.90 L692.13 904.37 L693.14 904.83 L694.16 905.29 L695.18 905.73 L696.21 906.18 L697.24 906.61 L698.28 907.04 L699.32 907.46 L700.37 907.87 L701.42 908.28 L702.48 908.68 L703.54 909.07 L704.60 909.45 L705.67 909.83 L706.74 910.20 L707.82 910.56 L708.90 910.92 L709.98 911.26 L711.07 911.60 L712.16 911.93 L713.26 912.26 L714.35 912.58 L715.46 912.88 L716.56 913.19 L717.67 913.48 L718.78 913.77 L719.90 914.04 L721.01 914.31 L722.14 914.58 L723.26 914.83 L724.39 915.08 L725.51 915.32 L726.65 915.55 L727.78 915.77 L728.92 915.99 L730.06 916.20 L731.20 916.40 L732.34 916.59 L733.49 916.77 L734.63 916.95 L735.78 917.12 L736.93 917.28 L738.09 917.43 L739.24 917.58 L740.40 917.71 L741.55 917.84 L742.71 917.96 L743.87 918.07 L745.03 918.18 L746.20 918.27 L747.36 918.36 L748.52 918.44 L749.69 918.51 L750.85 918.58 L752.02 918.63 L753.19 918.68 L754.35 918.72 L755.52 918.75 L756.69 918.78 L757.86 918.79 L759.03 918.80 L760.20 918.80 L761.36 918.79 L762.53 918.77 L763.70 918.75 L764.87 918.71 L766.04 918.67 L767.20 918.62 L768.37 918.57 L769.53 918.50 L770.70 918.43 L771.86 918.35 L773.03 918.26 L774.19 918.16 L775.35 918.05 L776.51 917.94 L777.67 917.82 L778.82 917.69 L779.98 917.55 L781.13 917.40 L782.29 917.25 L783.44 917.09 L784.59 916.92 L785.73 916.74 L786.88 916.55 L788.02 916.36 L789.16 916.16 L790.30 915.95 L791.44 915.73 L792.57 915.51 L793.70 915.27 L794.83 915.03 L795.95 914.78 L797.08 914.53 L798.20 914.26 L799.32 913.99 L800.43 913.71 L801.54 913.42 L802.65 913.13 L803.75 912.83 L804.86 912.52 L805.95 912.20 L807.05 911.87 L808.14 911.54 L809.23 911.20 L810.31 910.85 L811.39 910.49 L812.46 910.13 L813.54 909.76 L814.60 909.38 L815.67 909.00 L816.73 908.60 L817.78 908.20 L818.83 907.80 L819.88 907.38 L820.92 906.96 L821.95 906.53 L822.99 906.09 L824.01 905.65 L825.04 905.20 L826.05 904.74 L827.07 904.28 Z" fill="#46598f" stroke="#46598f" stroke-width="0.5"/>
<path d="M759.50 784.10 L643.23 731.86 L643.82 731.08 L644.42 730.30 L645.02 729.52 L645.63 728.75 L646.25 727.98 L646.88 727.21 L647.52 726.45 L648.17 725.70 L648.82 724.95 L649.48 724.20 L650.15 723.46 L650.83 722.72 L651.52 721.99 L652.22 721.26 L652.92 720.54 L653.63 719.82 L654.35 719.10 L655.08 718.39 L655.82 717.69 L656.56 716.99 L657.31 716.30 L658.07 715.61 L658.84 714.93 L659.61 714.25 L660.39 713.57 L661.18 712.91 L661.98 712.24 L662.78 711.59 L663.59 710.93 L664.41 710.29 L665.24 709.65 L666.07 709.01 L666.91 708.38 L667.76 707.76 L668.61 707.14 L669.47 706.53 L670.34 705.92 L671.21 705.32 L672.09 704.73 L672.98 704.14 L673.87 703.56 L674.77 702.98 L675.68 702.41 L676.59 701.85 L677.51 701.29 L678.44 700.74 L679.37 700.19 L680.31 699.65 L681.25 699.12 L682.20 698.60 L683.16 698.08 L684.12 697.56 L685.08 697.06 L686.05 696.56 L687.03 696.06 L688.02 695.57 L689.00 695.09 L690.00 694.62 L691.00 694.15 L692.00 693.69 L693.01 693.24 L694.03 692.79 L695.05 692.35 L696.07 691.92 L697.10 691.50 L698.13 691.08 L699.17 690.67 L700.21 690.26 L701.26 689.86 L702.31 689.47 L703.37 689.09 L704.43 688.71 L705.49 688.34 L706.56 687.98 L707.63 687.63 L708.71 687.28 L709.79 686.94 L710.87 686.61 L711.96 686.28 L713.05 685.96 L714.15 685.65 L715.25 685.35 L716.35 685.06 L717.45 684.77 L718.56 684.49 L719.67 684.21 L720.78 683.95 L721.90 683.69 L723.02 683.44 L724.14 683.20 L725.27 682.96 L726.40 682.73 L727.53 682.51 L728.66 682.30 L729.79 682.09 L730.93 681.90 L732.07 681.71 L733.21 681.53 L734.36 681.35 L735.50 681.19 L736.65 681.03 L737.80 680.88 L738.95 680.73 Z" fill="#e84b59" stroke="#e84b59" stroke-width="0.6" stroke-linejoin="round"/>
<path d="M759.50 784.10 L738.95 680.73 L740.10 680.60 L741.25 680.47 L742.40 680.35 L743.55 680.24 L744.71 680.14 L745.86 680.04 L747.02 679.95 L748.18 679.87 L749.34 679.80 L750.50 679.74 L751.66 679.68 L752.82 679.63 L753.98 679.59 L755.14 679.56 L756.30 679.53 L757.46 679.51 L758.62 679.50 L759.79 679.50 L760.95 679.51 L762.11 679.52 L763.27 679.54 L764.44 679.57 L765.60 679.61 L766.76 679.65 L767.92 679.71 L769.08 679.77 L770.24 679.84 L771.39 679.91 L772.55 680.00 L773.71 680.09 L774.86 680.19 L776.02 680.30 L777.17 680.41 L778.32 680.53 L779.47 680.66 L780.62 680.80 L781.77 680.95 L782.91 681.10 L784.06 681.27 L785.20 681.44 L786.34 681.61 L787.48 681.80 L788.61 681.99 L789.75 682.19 L790.88 682.40 L792.01 682.61 L793.13 682.84 L794.26 683.07 L795.38 683.31 L796.50 683.55 L797.61 683.81 L798.72 684.07 L799.84 684.34 L800.94 684.61 L802.05 684.90 L803.15 685.19 L804.24 685.49 L805.34 685.79 L806.43 686.10 L807.52 686.42 L808.60 686.75 L809.68 687.09 L810.76 687.43 L811.83 687.78 L812.90 688.14 L813.96 688.50 L815.02 688.87 L816.08 689.25 L817.13 689.64 L818.18 690.03 L819.22 690.43 L820.26 690.83 L821.29 691.25 L822.32 691.67 L823.35 692.10 L824.37 692.53 L825.38 692.97 L826.39 693.42 L827.40 693.88 L828.40 694.34 L829.39 694.81 L830.38 695.28 L831.37 695.76 L832.34 696.25 L833.32 696.75 L834.29 697.25 L835.25 697.76 L836.20 698.27 L837.16 698.79 Z" fill="#6a4dae" stroke="#6a4dae" stroke-width="0.6" stroke-linejoin="round"/>
<path d="M759.50 784.10 L837.16 698.79 L838.10 699.32 L839.03 699.85 L839.96 700.38 L840.88 700.93 L841.80 701.48 L842.71 702.03 L843.61 702.60 L844.51 703.16 L845.40 703.74 L846.29 704.32 L847.17 704.91 L848.04 705.50 L848.91 706.09 L849.77 706.70 L850.62 707.31 L851.47 707.92 L852.31 708.54 L853.14 709.17 L853.96 709.80 L854.78 710.44 L855.59 711.08 L856.40 711.73 L857.19 712.38 L857.98 713.04 L858.76 713.71 L859.54 714.38 L860.31 715.05 L861.07 715.73 L861.82 716.42 L862.56 717.11 L863.30 717.80 L864.03 718.50 L864.75 719.21 L865.47 719.92 L866.17 720.63 L866.87 721.35 L867.56 722.07 L868.24 722.80 L868.92 723.53 L869.58 724.27 L870.24 725.01 L870.89 725.76 L871.53 726.51 L872.16 727.27 L872.79 728.02 L873.40 728.79 L874.01 729.55 L874.61 730.33 L875.20 731.10 L875.78 731.88 L876.35 732.66 L876.92 733.45 L877.47 734.24 L878.02 735.04 L878.56 735.83 L879.09 736.64 L879.61 737.44 Z" fill="#4aa5dc" stroke="#4aa5dc" stroke-width="0.6" stroke-linejoin="round"/>
<path d="M759.50 784.10 L879.61 737.44 L880.12 738.24 L880.62 739.05 L881.11 739.86 L881.59 740.67 L882.06 741.49 L882.52 742.31 L882.98 743.13 L883.42 743.96 L883.86 744.78 L884.29 745.62 L884.70 746.45 L885.11 747.29 L885.51 748.13 L885.90 748.97 L886.28 749.81 L886.66 750.66 L887.02 751.51 L887.37 752.36 L887.72 753.21 L888.05 754.07 L888.38 754.93 L888.69 755.79 L889.00 756.65 L889.29 757.52 L889.58 758.39 L889.86 759.25 L890.13 760.12 L890.39 761.00 L890.63 761.87 L890.87 762.75 L891.10 763.62 L891.32 764.50 L891.53 765.38 L891.73 766.26 L891.93 767.15 L892.11 768.03 L892.28 768.92 L892.44 769.80 L892.59 770.69 L892.73 771.58 L892.87 772.47 L892.99 773.36 L893.10 774.25 Z" fill="#7dca57" stroke="#7dca57" stroke-width="0.6" stroke-linejoin="round"/>
<path d="M759.50 784.10 L893.10 774.25 L893.21 775.14 L893.30 776.04 L893.38 776.93 L893.46 777.83 L893.52 778.72 L893.58 779.62 L893.62 780.51 L893.66 781.41 L893.68 782.31 L893.70 783.21 L893.70 784.10 L893.70 785.02 L893.68 785.93 L893.66 786.85 L893.62 787.77 L893.58 788.68 L893.52 789.60 L893.46 790.51 L893.38 791.42 L893.30 792.34 L893.21 793.25 L893.10 794.16 L892.99 795.08 L892.87 795.99 L892.73 796.90 L892.59 797.80 L892.44 798.71 L892.28 799.62 L892.10 800.53 L891.92 801.43 L891.73 802.33 L891.53 803.23 L891.32 804.14 Z" fill="#d6ae9a" stroke="#d6ae9a" stroke-width="0.6" stroke-linejoin="round"/>
<path d="M759.50 784.10 L891.32 804.14 L891.10 805.04 L890.86 805.94 L890.62 806.84 L890.37 807.74 L890.11 808.64 L889.84 809.53 L889.56 810.43 L889.27 811.32 L888.97 812.21 L888.66 813.10 L888.34 813.98 L888.01 814.87 L887.67 815.75 L887.33 816.63 L886.97 817.50 L886.60 818.38 L886.22 819.25 L885.84 820.12 L885.44 820.98 L885.04 821.84 L884.63 822.70 L884.20 823.56 L883.77 824.42 L883.33 825.27 L882.88 826.12 L882.42 826.96 L881.95 827.80 Z" fill="#d27ccc" stroke="#d27ccc" stroke-width="0.6" stroke-linejoin="round"/>
<path d="M759.50 784.10 L881.95 827.80 L881.47 828.64 L880.99 829.48 L880.49 830.31 L879.99 831.13 L879.47 831.96 L878.95 832.78 L878.42 833.60 L877.88 834.41 L877.33 835.22 L876.77 836.02 L876.21 836.83 L875.63 837.62 L875.05 838.42 L874.46 839.21 L873.86 839.99 L873.25 840.77 L872.63 841.55 L872.00 842.32 L871.37 843.09 L870.73 843.86 L870.08 844.62 L869.42 845.37 L868.75 846.12 L868.07 846.87 Z" fill="#e0e63f" stroke="#e0e63f" stroke-width="0.6" stroke-linejoin="round"/>
<path d="M759.50 784.10 L868.07 846.87 L867.39 847.61 L866.70 848.35 L866.01 849.08 L865.30 849.80 L864.59 850.52 L863.87 851.24 L863.14 851.95 L862.40 852.66 L861.66 853.36 L860.90 854.05 L860.15 854.75 L859.38 855.43 L858.61 856.11 L857.82 856.79 L857.04 857.46 L856.24 858.12 L855.44 858.78 L854.63 859.43 L853.81 860.08 Z" fill="#eaae86" stroke="#eaae86" stroke-width="0.6" stroke-linejoin="round"/>
<path d="M759.50 784.10 L853.81 860.08 L853.00 860.71 L852.18 861.34 L851.36 861.96 L850.53 862.57 L849.69 863.18 L848.85 863.79 L848.00 864.38 L847.15 864.98 L846.29 865.56 L845.42 866.14 L844.54 866.72 L843.66 867.29 L842.78 867.85 L841.89 868.41 L840.99 868.96 L840.09 869.50 Z" fill="#a45ac7" stroke="#a45ac7" stroke-width="0.6" stroke-linejoin="round"/>
<path d="M759.50 784.10 L840.09 869.50 L839.19 870.03 L838.29 870.56 L837.38 871.08 L836.47 871.59 L835.55 872.09 L834.63 872.60 L833.70 873.09 L832.77 873.58 L831.83 874.06 L830.89 874.54 L829.94 875.01 L828.99 875.47 L828.03 875.93 L827.07 876.38 Z" fill="#bddc78" stroke="#bddc78" stroke-width="0.6" stroke-linejoin="round"/>
<path d="M759.50 784.10 L827.07 876.38 L826.05 876.84 L825.04 877.30 L824.01 877.75 L822.99 878.19 L821.95 878.63 L820.92 879.06 L819.88 879.48 L818.83 879.90 L817.78 880.30 L816.72 880.70 L815.66 881.10 L814.60 881.48 L813.53 881.86 L812.46 882.23 L811.39 882.59 L810.31 882.95 L809.22 883.30 L808.13 883.64 L807.04 883.97 L805.95 884.30 L804.85 884.62 L803.75 884.93 L802.64 885.23 L801.54 885.53 L800.42 885.81 L799.31 886.09 L798.19 886.36 L797.07 886.63 L795.95 886.89 L794.82 887.13 L793.69 887.38 L792.56 887.61 L791.43 887.83 L790.29 888.05 L789.15 888.26 L788.01 888.46 L786.87 888.66 L785.72 888.84 L784.58 889.02 L783.43 889.19 L782.28 889.35 L781.12 889.50 L779.97 889.65 L778.81 889.79 L777.66 889.92 L776.50 890.04 L775.34 890.15 L774.18 890.26 L773.01 890.36 L771.85 890.45 L770.69 890.53 L769.52 890.60 L768.36 890.67 L767.19 890.72 L766.02 890.77 L764.86 890.81 L763.69 890.85 L762.52 890.87 L761.35 890.89 L760.18 890.90 L759.01 890.90 L757.84 890.89 L756.68 890.88 L755.51 890.85 L754.34 890.82 L753.17 890.78 L752.00 890.73 L750.84 890.68 L749.67 890.61 L748.51 890.54 L747.34 890.46 L746.18 890.37 L745.02 890.28 L743.86 890.17 L742.70 890.06 L741.54 889.94 L740.38 889.81 L739.22 889.67 L738.07 889.53 L736.92 889.38 L735.76 889.22 L734.61 889.05 L733.47 888.87 L732.32 888.69 L731.18 888.49 L730.04 888.29 L728.90 888.09 L727.76 887.87 L726.63 887.65 L725.50 887.41 L724.37 887.17 L723.24 886.93 L722.12 886.67 L720.99 886.41 L719.88 886.14 L718.76 885.86 L717.65 885.57 L716.54 885.28 L715.43 884.98 L714.33 884.67 L713.23 884.35 L712.14 884.03 L711.05 883.70 L709.96 883.36 L708.87 883.01 L707.79 882.65 L706.72 882.29 L705.65 881.92 L704.58 881.55 L703.51 881.16 L702.45 880.77 L701.40 880.37 L700.35 879.96 L699.30 879.55 L698.26 879.13 L697.22 878.70 L696.19 878.27 L695.16 877.82 L694.13 877.37 L693.12 876.92 L692.10 876.45 L691.10 875.98 L690.09 875.51 L689.09 875.02 L688.10 874.53 L687.12 874.03 L686.13 873.53 L685.16 873.02 L684.19 872.50 L683.22 871.97 L682.27 871.44 L681.31 870.90 L680.37 870.36 L679.42 869.80 L678.49 869.25 L677.56 868.68 L676.64 868.11 L675.72 867.53 L674.81 866.95 L673.91 866.36 L673.01 865.76 L672.12 865.16 L671.24 864.55 L670.36 863.94 L669.49 863.32 L668.63 862.69 L667.77 862.06 L666.92 861.42 L666.08 860.77 L665.24 860.12 L664.42 859.47 L663.59 858.80 L662.78 858.14 L661.97 857.46 L661.17 856.79 L660.38 856.10 L659.60 855.41 L658.82 854.72 L658.05 854.02 L657.29 853.31 L656.54 852.60 L655.79 851.88 L655.05 851.16 L654.33 850.44 L653.60 849.70 L652.89 848.97 L652.18 848.23 L651.49 847.48 L650.80 846.73 L650.12 845.97 L649.44 845.21 L648.78 844.45 L648.12 843.68 L647.47 842.90 L646.83 842.13 L646.20 841.34 L645.58 840.55 L644.97 839.76 L644.36 838.97 L643.77 838.17 L643.18 837.36 L642.60 836.55 L642.03 835.74 L641.47 834.93 L640.92 834.11 L640.38 833.28 L639.84 832.46 L639.32 831.62 L638.80 830.79 L638.30 829.95 L637.80 829.11 L637.31 828.26 L636.83 827.42 L636.36 826.56 L635.90 825.71 L635.45 824.85 L635.01 823.99 L634.58 823.13 L634.16 822.26 L633.75 821.39 L633.34 820.52 L632.95 819.64 L632.56 818.76 L632.19 817.88 L631.82 817.00 L631.47 816.11 L631.12 815.22 L630.79 814.33 L630.46 813.44 L630.15 812.54 L629.84 811.64 L629.54 810.74 L629.26 809.84 L628.98 808.94 L628.71 808.03 L628.46 807.13 L628.21 806.22 L627.97 805.31 L627.75 804.39 L627.53 803.48 L627.32 802.57 L627.12 801.65 L626.94 800.73 L626.76 799.81 L626.59 798.89 L626.44 797.97 L626.29 797.05 L626.15 796.12 L626.03 795.20 L625.91 794.27 L625.80 793.35 L625.71 792.42 L625.62 791.49 L625.55 790.56 L625.48 789.63 L625.42 788.71 L625.38 787.78 L625.34 786.85 L625.32 785.92 L625.30 784.99 L625.30 784.06 L625.31 783.15 L625.32 782.24 L625.35 781.33 L625.38 780.41 L625.43 779.50 L625.49 778.59 L625.55 777.68 L625.63 776.78 L625.72 775.87 L625.81 774.96 L625.92 774.05 L626.04 773.15 L626.17 772.24 L626.30 771.34 L626.45 770.43 L626.61 769.53 L626.78 768.63 L626.95 767.73 L627.14 766.83 L627.34 765.93 L627.55 765.04 L627.77 764.14 L627.99 763.25 L628.23 762.35 L628.48 761.46 L628.74 760.58 L629.01 759.69 L629.28 758.80 L629.57 757.92 L629.87 757.04 L630.18 756.16 L630.49 755.29 L630.82 754.41 L631.16 753.54 L631.50 752.67 L631.86 751.80 L632.22 750.94 L632.60 750.07 L632.98 749.21 L633.38 748.36 L633.78 747.50 L634.20 746.65 L634.62 745.80 L635.05 744.95 L635.49 744.11 L635.95 743.27 L636.41 742.43 L636.88 741.60 L637.36 740.77 L637.85 739.94 L638.34 739.12 L638.85 738.30 L639.37 737.48 L639.89 736.66 L640.43 735.85 L640.97 735.05 L641.52 734.25 L642.08 733.45 L642.66 732.65 L643.23 731.86 Z" fill="#87a3da" stroke="#87a3da" stroke-width="0.6" stroke-linejoin="round"/>
<path d="M755.5 291 L778 282.6 Q783.9 280.8 790 281.2 L923 293" fill="none" stroke="#1a1a1a" stroke-width="1.25" stroke-dasharray="1.3 1.0"/>
<path d="M930.50 293.50 L923.33 289.36 L924.92 293.01 L922.72 296.33 Z" fill="#1a1a1a"/>
<path d="M805.8 302.6 L813 297.6 Q816.8 295.8 822 296.8 L923 317.4" fill="none" stroke="#1a1a1a" stroke-width="1.25" stroke-dasharray="1.3 1.0"/>
<path d="M930.50 319.00 L923.81 314.13 L925.00 317.93 L922.47 321.00 Z" fill="#1a1a1a"/>
<path d="M832.4 323 L839.5 318.2 Q844.3 315.8 850 317.6 L923 341.6" fill="none" stroke="#1a1a1a" stroke-width="1.25" stroke-dasharray="1.3 1.0"/>
<path d="M930.50 344.10 L924.35 338.56 L925.14 342.46 L922.30 345.25 Z" fill="#1a1a1a"/>
<path d="M864.4 349.6 L893 348.8 Q899 348.8 904 352.2 L924 364.8" fill="none" stroke="#1a1a1a" stroke-width="1.25" stroke-dasharray="1.3 1.0"/>
<path d="M930.50 368.80 L925.87 361.94 L925.70 365.92 L922.27 367.94 Z" fill="#1a1a1a"/>
<path d="M882.7 375.2 L895 373.4 Q900 373 903 377 L910 388 Q912.5 391.6 917 391.6 L923 391.6" fill="none" stroke="#1a1a1a" stroke-width="1.25" stroke-dasharray="1.3 1.0"/>
<path d="M930.50 391.60 L923.00 388.10 L924.90 391.60 L923.00 395.10 Z" fill="#1a1a1a"/>
<path d="M879.1 401 Q890 403.5 897 408.5 Q904 415.3 911 415.3 L920 415.3" fill="none" stroke="#1a1a1a" stroke-width="1.25" stroke-dasharray="1.3 1.0"/>
<path d="M927.70 415.30 L920.20 411.80 L922.10 415.30 L920.20 418.80 Z" fill="#1a1a1a"/>
<path d="M879.1 427.2 Q888 431.5 893 436.5 Q897 440.6 904 440.6 L923.5 440.6" fill="none" stroke="#1a1a1a" stroke-width="1.25" stroke-dasharray="1.3 1.0"/>
<path d="M930.70 440.60 L923.20 437.10 L925.10 440.60 L923.20 444.10 Z" fill="#1a1a1a"/>
<path d="M866.8 447.5 L882 458.5 Q888 464.9 896 464.9 L923.5 465.1" fill="none" stroke="#1a1a1a" stroke-width="1.25" stroke-dasharray="1.3 1.0"/>
<path d="M930.70 465.10 L923.20 461.60 L925.10 465.10 L923.20 468.60 Z" fill="#1a1a1a"/>
<path d="M849.9 464.4 L878.5 483.2 Q882.5 486.7 888 486.9 L923.5 487.2" fill="none" stroke="#1a1a1a" stroke-width="1.25" stroke-dasharray="1.3 1.0"/>
<path d="M930.70 487.20 L923.20 483.70 L925.10 487.20 L923.20 490.70 Z" fill="#1a1a1a"/>
<path d="M832 477.7 L871.5 508.5 Q875 512 880 512.2 L923.5 512.4" fill="none" stroke="#1a1a1a" stroke-width="1.25" stroke-dasharray="1.3 1.0"/>
<path d="M930.70 512.40 L923.20 508.90 L925.10 512.40 L923.20 515.90 Z" fill="#1a1a1a"/>
<path d="M713.1 697.5 L729.5 675.8 Q732 672.6 736 672.6 L923.5 672.6" fill="none" stroke="#1a1a1a" stroke-width="1.25" stroke-dasharray="1.3 1.0"/>
<path d="M930.80 672.60 L923.30 669.10 L925.20 672.60 L923.30 676.10 Z" fill="#1a1a1a"/>
<path d="M806.7 696.4 L923.5 696.4" fill="none" stroke="#1a1a1a" stroke-width="1.25" stroke-dasharray="1.3 1.0"/>
<path d="M930.80 696.40 L923.30 692.90 L925.20 696.40 L923.30 699.90 Z" fill="#1a1a1a"/>
<path d="M853.5 725.3 L923.5 725.3" fill="none" stroke="#1a1a1a" stroke-width="1.25" stroke-dasharray="1.3 1.0"/>
<path d="M930.80 725.30 L923.30 721.80 L925.20 725.30 L923.30 728.80 Z" fill="#1a1a1a"/>
<path d="M875.3 756.3 L923.5 756.3" fill="none" stroke="#1a1a1a" stroke-width="1.25" stroke-dasharray="1.3 1.0"/>
<path d="M930.80 756.30 L923.30 752.80 L925.20 756.30 L923.30 759.80 Z" fill="#1a1a1a"/>
<path d="M878.6 790.2 L894 790.2 Q899 790 903 786 Q910 777.6 916 777.6 L923.5 777.6" fill="none" stroke="#1a1a1a" stroke-width="1.25" stroke-dasharray="1.3 1.0"/>
<path d="M930.80 777.60 L923.30 774.10 L925.20 777.60 L923.30 781.10 Z" fill="#1a1a1a"/>
<path d="M875 816 L902.5 816 Q907 815.8 910 812 Q914 806.2 918 806.2 L923.5 806.2" fill="none" stroke="#1a1a1a" stroke-width="1.25" stroke-dasharray="1.3 1.0"/>
<path d="M930.80 806.20 L923.30 802.70 L925.20 806.20 L923.30 809.70 Z" fill="#1a1a1a"/>
<path d="M862 838.5 L906.5 838.5 Q910 838.3 912.5 835.5 Q915 831.8 919 831.8 L923.5 831.8" fill="none" stroke="#1a1a1a" stroke-width="1.25" stroke-dasharray="1.3 1.0"/>
<path d="M930.80 831.80 L923.30 828.30 L925.20 831.80 L923.30 835.30 Z" fill="#1a1a1a"/>
<path d="M858 853.4 L923.5 858.2" fill="none" stroke="#1a1a1a" stroke-width="1.25" stroke-dasharray="1.3 1.0"/>
<path d="M930.80 858.80 L923.56 854.79 L925.21 858.41 L923.07 861.77 Z" fill="#1a1a1a"/>
<path d="M839.7 863.8 L862.5 884 Q865.5 886.6 869.5 886.6 L923.5 886.4" fill="none" stroke="#1a1a1a" stroke-width="1.25" stroke-dasharray="1.3 1.0"/>
<path d="M930.80 886.40 L923.30 882.90 L925.20 886.40 L923.30 889.90 Z" fill="#1a1a1a"/>
<path d="M828 867.7 L873 908 Q876 910.8 880 910.8 L923.5 911.1" fill="none" stroke="#1a1a1a" stroke-width="1.25" stroke-dasharray="1.3 1.0"/>
<path d="M930.80 911.10 L923.30 907.60 L925.20 911.10 L923.30 914.60 Z" fill="#1a1a1a"/>
<rect x="89.60" y="1016.00" width="477.80" height="34.50" fill="#dcd6cc"/>
<line x1="88.60" y1="1016.00" x2="568.40" y2="1016.00" stroke="#8a8a8a" stroke-width="2.2"/>
<line x1="88.60" y1="1050.50" x2="568.40" y2="1050.50" stroke="#8a8a8a" stroke-width="2.2"/>
<line x1="88.60" y1="1103.30" x2="568.40" y2="1103.30" stroke="#8a8a8a" stroke-width="1.6"/>
<line x1="88.60" y1="1156.10" x2="568.40" y2="1156.10" stroke="#8a8a8a" stroke-width="1.6"/>
<line x1="88.60" y1="1207.80" x2="568.40" y2="1207.80" stroke="#8a8a8a" stroke-width="1.6"/>
<line x1="88.60" y1="1281.50" x2="568.40" y2="1281.50" stroke="#8a8a8a" stroke-width="1.6"/>
<line x1="88.60" y1="1333.40" x2="568.40" y2="1333.40" stroke="#8a8a8a" stroke-width="1.6"/>
<line x1="88.60" y1="1365.00" x2="568.40" y2="1365.00" stroke="#8a8a8a" stroke-width="1.6"/>
<line x1="88.60" y1="1396.40" x2="568.40" y2="1396.40" stroke="#8a8a8a" stroke-width="1.6"/>
<line x1="88.60" y1="1431.80" x2="568.40" y2="1431.80" stroke="#8a8a8a" stroke-width="1.6"/>
<line x1="88.60" y1="1463.70" x2="568.40" y2="1463.70" stroke="#8a8a8a" stroke-width="1.6"/>
<line x1="88.60" y1="1495.00" x2="568.40" y2="1495.00" stroke="#8a8a8a" stroke-width="2.2"/>
<line x1="89.60" y1="1016.00" x2="89.60" y2="1495.00" stroke="#8a8a8a" stroke-width="2"/>
<line x1="473.00" y1="1016.00" x2="473.00" y2="1495.00" stroke="#8a8a8a" stroke-width="2"/>
<line x1="567.40" y1="1016.00" x2="567.40" y2="1495.00" stroke="#8a8a8a" stroke-width="2"/><rect x="578.60" y="1015.80" width="484.50" height="34.60" fill="#dcd6cc"/>
<line x1="577.60" y1="1015.80" x2="1064.10" y2="1015.80" stroke="#8a8a8a" stroke-width="2.2"/>
<line x1="577.60" y1="1050.40" x2="1064.10" y2="1050.40" stroke="#8a8a8a" stroke-width="2.2"/>
<line x1="577.60" y1="1103.20" x2="1064.10" y2="1103.20" stroke="#8a8a8a" stroke-width="1.6"/>
<line x1="577.60" y1="1156.00" x2="1064.10" y2="1156.00" stroke="#8a8a8a" stroke-width="1.6"/>
<line x1="577.60" y1="1207.90" x2="1064.10" y2="1207.90" stroke="#8a8a8a" stroke-width="1.6"/>
<line x1="577.60" y1="1260.50" x2="1064.10" y2="1260.50" stroke="#8a8a8a" stroke-width="1.6"/>
<line x1="577.60" y1="1333.30" x2="1064.10" y2="1333.30" stroke="#8a8a8a" stroke-width="1.6"/>
<line x1="577.60" y1="1365.00" x2="1064.10" y2="1365.00" stroke="#8a8a8a" stroke-width="1.6"/>
<line x1="577.60" y1="1396.30" x2="1064.10" y2="1396.30" stroke="#8a8a8a" stroke-width="1.6"/>
<line x1="577.60" y1="1428.20" x2="1064.10" y2="1428.20" stroke="#8a8a8a" stroke-width="1.6"/>
<line x1="577.60" y1="1459.40" x2="1064.10" y2="1459.40" stroke="#8a8a8a" stroke-width="1.6"/>
<line x1="577.60" y1="1511.80" x2="1064.10" y2="1511.80" stroke="#8a8a8a" stroke-width="2.2"/>
<line x1="578.60" y1="1015.80" x2="578.60" y2="1511.80" stroke="#8a8a8a" stroke-width="2"/>
<line x1="962.60" y1="1015.80" x2="962.60" y2="1511.80" stroke="#8a8a8a" stroke-width="2"/>
<line x1="1063.10" y1="1015.80" x2="1063.10" y2="1511.80" stroke="#8a8a8a" stroke-width="2"/>
<circle cx="103.5" cy="895.8" r="14.5" fill="#e61e28"/><path d="M99.0 890.6 Q99.3 888.2 103.3 888.2 Q107.3 888.2 107.3 891.3 Q107.3 893.7 105.0 895.3 Q103.3 896.5 103.3 898.0" fill="none" stroke="#fff" stroke-width="4.3" stroke-linecap="round"/><circle cx="103.2" cy="903.3" r="2.7" fill="#fff"/>
</svg>

<div id="texts">
<div class="t" style="left:215.50px;font-family:'Liberation Serif', serif;font-size:37.60px;font-weight:bold;font-style:normal;color:#3f7fc3;top:82.71px;line-height:1;-webkit-text-stroke:1.2px #3f7fc3;transform:scaleX(0.9485);transform-origin:0 0">ÜLKELERLE EKONOMİK İLİŞKİLERİMİZ</div>
<div class="t" style="left:142.00px;font-family:'Liberation Serif', serif;font-size:20.50px;font-weight:normal;font-style:normal;color:#35292d;top:164.63px;line-height:1;transform:scaleX(0.9980);transform-origin:0 0">Ülkemizin diğer ülkelerle ekonomik ilişkileri hakkında neler söyleyebilirsiniz?</div>
<div class="t j" style="left:125.00px;width:465.34px;font-family:'Liberation Serif', serif;font-size:19.60px;font-weight:normal;font-style:normal;color:#231f20;top:229.29px;line-height:1;transform:scaleX(1.0300);transform-origin:0 0">Ülkemizin sahip olduğu yer altı ve yer üstü kaynaklarını</div>
<div class="t j" style="left:88.80px;width:500.49px;font-family:'Liberation Serif', serif;font-size:19.60px;font-weight:normal;font-style:normal;color:#231f20;top:259.70px;line-height:1;transform:scaleX(1.0300);transform-origin:0 0">önceki konularda öğrenmiştiniz. Topraklarımız, ormanlarımız,</div>
<div class="t j" style="left:88.80px;width:500.49px;font-family:'Liberation Serif', serif;font-size:19.60px;font-weight:normal;font-style:normal;color:#231f20;top:290.11px;line-height:1;transform:scaleX(1.0300);transform-origin:0 0">sularımız, madenlerimiz başlıca kaynaklarımızdır. Ülkemiz bu</div>
<div class="t" style="left:88.80px;font-family:'Liberation Serif', serif;font-size:19.60px;font-weight:normal;font-style:normal;color:#231f20;top:320.52px;line-height:1;transform:scaleX(1.0221);transform-origin:0 0">kaynaklara bağlı gelişen tarım, hayvancılık, balıkçılık, madenci-</div>
<div class="t" style="left:88.80px;font-family:'Liberation Serif', serif;font-size:19.60px;font-weight:normal;font-style:normal;color:#231f20;top:350.93px;line-height:1;transform:scaleX(1.0231);transform-origin:0 0">lik gibi ekonomik faaliyetlerle halkının ihtiyaçlarını karşılamak-</div>
<div class="t" style="left:88.80px;font-family:'Liberation Serif', serif;font-size:19.60px;font-weight:normal;font-style:normal;color:#231f20;top:381.34px;line-height:1;transform:scaleX(1.0233);transform-origin:0 0">tadır. İhtiyaç fazlası ürünleri ise diğer ülkelere ihraç ederek gelir</div>
<div class="t j" style="left:88.80px;width:500.49px;font-family:'Liberation Serif', serif;font-size:19.60px;font-weight:normal;font-style:normal;color:#231f20;top:411.75px;line-height:1;transform:scaleX(1.0300);transform-origin:0 0">elde etmektedir <i>(Grafik 7.2)</i>. Halkının ihtiyaç duyduğu ancak</div>
<div class="t j" style="left:88.80px;width:500.49px;font-family:'Liberation Serif', serif;font-size:19.60px;font-weight:normal;font-style:normal;color:#231f20;top:442.16px;line-height:1;transform:scaleX(1.0300);transform-origin:0 0">kendi kaynakları ile karşılayamadığı ürünleri ise dışarıdan sa-</div>
<div class="t j" style="left:88.80px;width:500.49px;font-family:'Liberation Serif', serif;font-size:19.60px;font-weight:normal;font-style:normal;color:#231f20;top:472.57px;line-height:1;transform:scaleX(1.0300);transform-origin:0 0">tın almakta yani ithal etmektedir <i>(Grafik 7.3)</i>. İhracat ve ithalat</div>
<div class="t j" style="left:88.80px;width:500.49px;font-family:'Liberation Serif', serif;font-size:19.60px;font-weight:normal;font-style:normal;color:#231f20;top:502.98px;line-height:1;transform:scaleX(1.0300);transform-origin:0 0">bütün ülkeler için zorunludur. Ancak ülkemizin kaynaklarının</div>
<div class="t j" style="left:88.80px;width:500.49px;font-family:'Liberation Serif', serif;font-size:19.60px;font-weight:normal;font-style:normal;color:#231f20;top:533.39px;line-height:1;transform:scaleX(1.0300);transform-origin:0 0">değerlendirilmesi ve başka ülkelere döviz ödeyerek ürün alımı-</div>
<div class="t" style="left:88.80px;font-family:'Liberation Serif', serif;font-size:19.60px;font-weight:normal;font-style:normal;color:#231f20;top:563.80px;line-height:1;transform:scaleX(1.0122);transform-origin:0 0">nın azaltılması için yerli malı kullanarak ülke kalkınmasına katkı</div>
<div class="t" style="left:88.80px;font-family:'Liberation Serif', serif;font-size:19.60px;font-weight:normal;font-style:normal;color:#231f20;top:594.21px;line-height:1;transform:scaleX(1.0199);transform-origin:0 0">sağlamalıyız. Dünya üzerinde birçok ülke bu şekilde ihtiyaç faz-</div>
<div class="t" style="left:88.80px;font-family:'Liberation Serif', serif;font-size:19.60px;font-weight:normal;font-style:normal;color:#231f20;top:624.62px;line-height:1;transform:scaleX(1.0358);transform-origin:0 0">lası ürünleri satmakta ve ihtiyaç duyduğu ürünleri almaktadır.</div>
<div class="t j" style="left:125.00px;width:465.34px;font-family:'Liberation Serif', serif;font-size:19.60px;font-weight:normal;font-style:normal;color:#231f20;top:661.19px;line-height:1;transform:scaleX(1.0300);transform-origin:0 0">Ülkemiz özellikle gıda, tarım ve hayvancılık açısından çok</div>
<div class="t j" style="left:88.80px;width:500.49px;font-family:'Liberation Serif', serif;font-size:19.60px;font-weight:normal;font-style:normal;color:#231f20;top:691.52px;line-height:1;transform:scaleX(1.0300);transform-origin:0 0">zengin kaynaklara sahiptir. Ülkemizin kaynak bakımından</div>
<div class="t j" style="left:88.80px;width:500.49px;font-family:'Liberation Serif', serif;font-size:19.60px;font-weight:normal;font-style:normal;color:#231f20;top:721.85px;line-height:1;transform:scaleX(1.0300);transform-origin:0 0">zengin olduğu alanlarda üretim de fazladır. Bazı alanlarda üre-</div>
<div class="t j" style="left:88.80px;width:500.49px;font-family:'Liberation Serif', serif;font-size:19.60px;font-weight:normal;font-style:normal;color:#231f20;top:752.18px;line-height:1;transform:scaleX(1.0300);transform-origin:0 0">tim ihtiyacı karşılamakta, bazı alanlarda da ihtiyaç fazlası ürün-</div>
<div class="t j" style="left:88.80px;width:500.49px;font-family:'Liberation Serif', serif;font-size:19.60px;font-weight:normal;font-style:normal;color:#231f20;top:782.51px;line-height:1;transform:scaleX(1.0300);transform-origin:0 0">ler başka ülkelere ihraç edilmektedir <i>(Tablo 7.1)</i>. Örneğin sebze</div>
<div class="t j" style="left:88.80px;width:500.49px;font-family:'Liberation Serif', serif;font-size:19.60px;font-weight:normal;font-style:normal;color:#231f20;top:812.84px;line-height:1;transform:scaleX(1.0300);transform-origin:0 0">ve meyve üretimi, ülkemizin ihtiyacından fazladır. Bu yüzden</div>
<div class="t" style="left:88.80px;font-family:'Liberation Serif', serif;font-size:19.60px;font-weight:normal;font-style:normal;color:#231f20;top:843.17px;line-height:1;transform:scaleX(1.0470);transform-origin:0 0">sebze ve meyveler ihraç edilen ürünler arasındadır.</div>
<div class="t j" style="left:126.00px;width:468.92px;font-family:'Liberation Serif', serif;font-size:19.80px;font-weight:bold;font-style:normal;color:#231f20;top:885.72px;line-height:1;transform:scaleX(1.0200);transform-origin:0 0">Aldığınız ürünlerin etiketlerini inceleyiniz. İthal ürün-</div>
<div class="t" style="left:126.00px;font-family:'Liberation Serif', serif;font-size:19.80px;font-weight:bold;font-style:normal;color:#231f20;top:916.02px;line-height:1;transform:scaleX(0.9986);transform-origin:0 0">lerin etiketlerinde en çok hangi ülkelerin adına rastlıyor-</div>
<div class="t" style="left:126.00px;font-family:'Liberation Serif', serif;font-size:19.80px;font-weight:bold;font-style:normal;color:#231f20;top:946.82px;line-height:1;transform:scaleX(0.9768);transform-origin:0 0">sunuz?</div>
<div class="t" style="left:90.50px;font-family:'Liberation Serif', serif;font-size:19.00px;font-weight:normal;font-style:italic;color:#231f20;top:985.19px;line-height:1;transform:scaleX(1.0059);transform-origin:0 0"><b>Tablo 7.1:</b> En Fazla İhracat ve İthalat Yapan İlk 10 Sektör&nbsp; (Nisan 2024)</div>
<div class="t" style="left:648.20px;font-family:'Liberation Serif', serif;font-size:18.00px;font-weight:bold;font-style:normal;color:#231f20;top:250.43px;line-height:1;transform:scaleX(1.0061);transform-origin:0 0">Ülkelere göre ihracat, Mart 2024</div>
<div class="t" style="left:649.40px;font-family:'Liberation Serif', serif;font-size:18.00px;font-weight:bold;font-style:normal;color:#231f20;top:641.13px;line-height:1;transform:scaleX(1.0195);transform-origin:0 0">Ülkelere göre ithalat, Mart 2024</div>
<div class="t" style="left:713.50px;font-family:'Liberation Serif', serif;font-size:19.00px;font-weight:bold;font-style:italic;color:#231f20;top:535.19px;line-height:1;transform:scaleX(0.9846);transform-origin:0 0">Grafik 7.2</div>
<div class="t" style="left:713.50px;font-family:'Liberation Serif', serif;font-size:19.00px;font-weight:bold;font-style:italic;color:#231f20;top:922.59px;line-height:1;transform:scaleX(0.9846);transform-origin:0 0">Grafik 7.3</div>
<div class="t" style="left:936.60px;font-family:'Liberation Serif', serif;font-size:16.20px;font-weight:normal;font-style:normal;color:#231f20;top:285.73px;line-height:1;transform:scaleX(0.9690);transform-origin:0 0">Almanya %8,2</div>
<div class="t" style="left:936.60px;font-family:'Liberation Serif', serif;font-size:16.20px;font-weight:normal;font-style:normal;color:#231f20;top:309.63px;line-height:1;transform:scaleX(0.9923);transform-origin:0 0">ABD %6,0</div>
<div class="t" style="left:936.60px;font-family:'Liberation Serif', serif;font-size:16.20px;font-weight:normal;font-style:normal;color:#231f20;top:333.63px;line-height:1;transform:scaleX(0.9688);transform-origin:0 0">İtalya %5,4</div>
<div class="t" style="left:936.60px;font-family:'Liberation Serif', serif;font-size:16.20px;font-weight:normal;font-style:normal;color:#231f20;top:358.43px;line-height:1;transform:scaleX(0.9682);transform-origin:0 0">Irak %5,3</div>
<div class="t" style="left:936.60px;font-family:'Liberation Serif', serif;font-size:16.20px;font-weight:normal;font-style:normal;color:#231f20;top:382.43px;line-height:1;transform:scaleX(0.9595);transform-origin:0 0">Birleşik Krallık %5,1</div>
<div class="t" style="left:936.60px;font-family:'Liberation Serif', serif;font-size:16.20px;font-weight:normal;font-style:normal;color:#231f20;top:406.83px;line-height:1;transform:scaleX(0.9692);transform-origin:0 0">İspanya %3,9</div>
<div class="t" style="left:936.60px;font-family:'Liberation Serif', serif;font-size:16.20px;font-weight:normal;font-style:normal;color:#231f20;top:431.23px;line-height:1;transform:scaleX(0.9688);transform-origin:0 0">Fransa %3,8</div>
<div class="t" style="left:936.60px;font-family:'Liberation Serif', serif;font-size:16.20px;font-weight:normal;font-style:normal;color:#231f20;top:455.63px;line-height:1;transform:scaleX(0.9917);transform-origin:0 0">Hollanda %3,3</div>
<div class="t" style="left:936.60px;font-family:'Liberation Serif', serif;font-size:16.20px;font-weight:normal;font-style:normal;color:#231f20;top:479.13px;line-height:1;transform:scaleX(0.9574);transform-origin:0 0">Rusya %3,2</div>
<div class="t" style="left:936.60px;font-family:'Liberation Serif', serif;font-size:16.20px;font-weight:normal;font-style:normal;color:#231f20;top:503.53px;line-height:1;transform:scaleX(0.9778);transform-origin:0 0">Romanya %3,0</div>
<div class="t" style="left:937.50px;font-family:'Liberation Serif', serif;font-size:16.20px;font-weight:normal;font-style:normal;color:#231f20;top:664.03px;line-height:1;transform:scaleX(1.0055);transform-origin:0 0">Rusya %14,3</div>
<div class="t" style="left:937.50px;font-family:'Liberation Serif', serif;font-size:16.20px;font-weight:normal;font-style:normal;color:#231f20;top:689.63px;line-height:1;transform:scaleX(1.0440);transform-origin:0 0">Çin %12,2</div>
<div class="t" style="left:937.50px;font-family:'Liberation Serif', serif;font-size:16.20px;font-weight:normal;font-style:normal;color:#231f20;top:717.13px;line-height:1;transform:scaleX(1.0133);transform-origin:0 0">Almanya %7,5</div>
<div class="t" style="left:937.50px;font-family:'Liberation Serif', serif;font-size:16.20px;font-weight:normal;font-style:normal;color:#231f20;top:742.93px;line-height:1;transform:scaleX(1.0037);transform-origin:0 0">İtalya %5,5</div>
<div class="t" style="left:937.50px;font-family:'Liberation Serif', serif;font-size:16.20px;font-weight:normal;font-style:normal;color:#231f20;top:770.23px;line-height:1;transform:scaleX(1.0368);transform-origin:0 0">ABD %4,9</div>
<div class="t" style="left:937.50px;font-family:'Liberation Serif', serif;font-size:16.20px;font-weight:normal;font-style:normal;color:#231f20;top:795.93px;line-height:1;transform:scaleX(1.0232);transform-origin:0 0">Fransa %3,9</div>
<div class="t" style="left:937.50px;font-family:'Liberation Serif', serif;font-size:16.20px;font-weight:normal;font-style:normal;color:#231f20;top:823.03px;line-height:1;transform:scaleX(1.0011);transform-origin:0 0">İsviçre %3,0</div>
<div class="t" style="left:937.50px;font-family:'Liberation Serif', serif;font-size:16.20px;font-weight:normal;font-style:normal;color:#231f20;top:849.93px;line-height:1;transform:scaleX(1.0181);transform-origin:0 0">İspanya %2,7</div>
<div class="t" style="left:937.50px;font-family:'Liberation Serif', serif;font-size:16.20px;font-weight:normal;font-style:normal;color:#231f20;top:875.63px;line-height:1;transform:scaleX(1.0364);transform-origin:0 0">Güney Kore %2,3</div>
<div class="t" style="left:937.50px;font-family:'Liberation Serif', serif;font-size:16.20px;font-weight:normal;font-style:normal;color:#231f20;top:901.83px;line-height:1;transform:scaleX(1.0584);transform-origin:0 0">Hindistan %1,8</div>
<div class="t" style="left:663.82px;font-family:'Liberation Serif', serif;font-size:17.00px;font-weight:normal;font-style:normal;color:#1f2a44;top:378.06px;line-height:1">Diğerleri</div>
<div class="t" style="left:672.54px;font-family:'Liberation Serif', serif;font-size:17.00px;font-weight:normal;font-style:normal;color:#1f2a44;top:398.06px;line-height:1">%52,8</div>
<div class="t" style="left:678.82px;font-family:'Liberation Serif', serif;font-size:17.00px;font-weight:normal;font-style:normal;color:#1f2a44;top:795.56px;line-height:1">Diğerleri</div>
<div class="t" style="left:687.54px;font-family:'Liberation Serif', serif;font-size:17.00px;font-weight:normal;font-style:normal;color:#1f2a44;top:815.86px;line-height:1">%41,9</div>
<div class="t" style="left:175.30px;font-family:'Liberation Serif', serif;font-size:19.00px;font-weight:normal;font-style:normal;color:#231f20;top:1025.39px;line-height:1;transform:scaleX(1.0835);transform-origin:0 0"><b>İhracat</b> (bin ABD doları)</div>
<div class="t" style="left:501.60px;font-family:'Liberation Serif', serif;font-size:18.00px;font-weight:bold;font-style:normal;color:#231f20;top:1026.23px;line-height:1;transform:scaleX(1.0333);transform-origin:0 0">2024</div>
<div class="t j" style="left:98.80px;width:364.70px;font-family:'Liberation Serif', serif;font-size:18.30px;font-weight:normal;font-style:normal;color:#231f20;top:1058.48px;line-height:1;transform:scaleX(1.0000);transform-origin:0 0">Motorlu kara taşıtları, traktörler, bisikletler, mo-</div>
<div class="t" style="left:98.80px;font-family:'Liberation Serif', serif;font-size:18.30px;font-weight:normal;font-style:normal;color:#231f20;top:1078.98px;line-height:1;transform:scaleX(0.9829);transform-origin:0 0">tosikletler ve diğer kara taşıtları, bunların parçaları</div>
<div class="t" style="left:483.77px;font-family:'Liberation Serif', serif;font-size:18.30px;font-weight:normal;font-style:normal;color:#231f20;top:1069.48px;line-height:1">2.371.463</div>
<div class="t j" style="left:98.80px;width:364.70px;font-family:'Liberation Serif', serif;font-size:18.30px;font-weight:normal;font-style:normal;color:#231f20;top:1110.98px;line-height:1;transform:scaleX(1.0000);transform-origin:0 0">Kazanlar, makineler, mekanik cihazlar ve aletler,</div>
<div class="t" style="left:98.80px;font-family:'Liberation Serif', serif;font-size:18.30px;font-weight:normal;font-style:normal;color:#231f20;top:1131.88px;line-height:1">bunların parçaları</div>
<div class="t" style="left:484.45px;font-family:'Liberation Serif', serif;font-size:18.30px;font-weight:normal;font-style:normal;color:#231f20;top:1121.98px;line-height:1">1.911.741</div>
<div class="t" style="left:98.80px;font-family:'Liberation Serif', serif;font-size:18.30px;font-weight:normal;font-style:normal;color:#231f20;top:1163.18px;line-height:1;transform:scaleX(0.9929);transform-origin:0 0">Mineral yakıtlar, mineral yağlar ve bunların damı-</div>
<div class="t" style="left:98.80px;font-family:'Liberation Serif', serif;font-size:18.30px;font-weight:normal;font-style:normal;color:#231f20;top:1184.18px;line-height:1">tılmasından elde edilen ürünler, mineral mumlar</div>
<div class="t" style="left:483.77px;font-family:'Liberation Serif', serif;font-size:18.30px;font-weight:normal;font-style:normal;color:#231f20;top:1173.98px;line-height:1">1.600.696</div>
<div class="t j" style="left:98.80px;width:364.70px;font-family:'Liberation Serif', serif;font-size:18.30px;font-weight:normal;font-style:normal;color:#231f20;top:1214.88px;line-height:1;transform:scaleX(1.0000);transform-origin:0 0">Elektrikli makine ve cihazlar, ses kaydetme-ver-</div>
<div class="t j" style="left:98.80px;width:364.70px;font-family:'Liberation Serif', serif;font-size:18.30px;font-weight:normal;font-style:normal;color:#231f20;top:1235.78px;line-height:1;transform:scaleX(1.0000);transform-origin:0 0">me, televizyon görüntü-ses kaydetme-verme ci-</div>
<div class="t" style="left:98.80px;font-family:'Liberation Serif', serif;font-size:18.30px;font-weight:normal;font-style:normal;color:#231f20;top:1256.68px;line-height:1">hazları, bunların parçaları</div>
<div class="t" style="left:483.77px;font-family:'Liberation Serif', serif;font-size:18.30px;font-weight:normal;font-style:normal;color:#231f20;top:1235.88px;line-height:1">1.175.587</div>
<div class="t" style="left:98.80px;font-family:'Liberation Serif', serif;font-size:18.30px;font-weight:normal;font-style:normal;color:#231f20;top:1288.18px;line-height:1;transform:scaleX(0.9928);transform-origin:0 0">Kıymetli veya yarı kıymetli taşlar, kıymetli metal-</div>
<div class="t" style="left:98.80px;font-family:'Liberation Serif', serif;font-size:18.30px;font-weight:normal;font-style:normal;color:#231f20;top:1309.08px;line-height:1">ler, inciler, taklit mücevherci eşyası, metal paralar</div>
<div class="t" style="left:497.48px;font-family:'Liberation Serif', serif;font-size:18.30px;font-weight:normal;font-style:normal;color:#231f20;top:1298.98px;line-height:1">973.302</div>
<div class="t" style="left:98.80px;font-family:'Liberation Serif', serif;font-size:18.30px;font-weight:normal;font-style:normal;color:#231f20;top:1340.88px;line-height:1">Demir ve çelik</div>
<div class="t" style="left:497.48px;font-family:'Liberation Serif', serif;font-size:18.30px;font-weight:normal;font-style:normal;color:#231f20;top:1340.88px;line-height:1">807.219</div>
<div class="t" style="left:98.80px;font-family:'Liberation Serif', serif;font-size:18.30px;font-weight:normal;font-style:normal;color:#231f20;top:1372.28px;line-height:1">Plastikler ve plastik ürünleri</div>
<div class="t" style="left:497.48px;font-family:'Liberation Serif', serif;font-size:18.30px;font-weight:normal;font-style:normal;color:#231f20;top:1372.48px;line-height:1">781.441</div>
<div class="t" style="left:98.80px;font-family:'Liberation Serif', serif;font-size:18.30px;font-weight:normal;font-style:normal;color:#231f20;top:1406.08px;line-height:1">Örme giyim eşyası ve aksesuarı</div>
<div class="t" style="left:497.48px;font-family:'Liberation Serif', serif;font-size:18.30px;font-weight:normal;font-style:normal;color:#231f20;top:1406.48px;line-height:1">689.624</div>
<div class="t" style="left:98.80px;font-family:'Liberation Serif', serif;font-size:18.30px;font-weight:normal;font-style:normal;color:#231f20;top:1438.88px;line-height:1">Demir veya çelikten eşya</div>
<div class="t" style="left:497.48px;font-family:'Liberation Serif', serif;font-size:18.30px;font-weight:normal;font-style:normal;color:#231f20;top:1438.98px;line-height:1">672.746</div>
<div class="t" style="left:98.80px;font-family:'Liberation Serif', serif;font-size:18.30px;font-weight:normal;font-style:normal;color:#231f20;top:1470.78px;line-height:1">Örülmemiş giyim eşyası ve aksesuarı</div>
<div class="t" style="left:498.15px;font-family:'Liberation Serif', serif;font-size:18.30px;font-weight:normal;font-style:normal;color:#231f20;top:1470.58px;line-height:1">511.350</div>
<div class="t" style="left:664.60px;font-family:'Liberation Serif', serif;font-size:19.00px;font-weight:normal;font-style:normal;color:#231f20;top:1025.39px;line-height:1;transform:scaleX(1.1135);transform-origin:0 0"><b>İthalat</b> (bin ABD doları)</div>
<div class="t" style="left:994.25px;font-family:'Liberation Serif', serif;font-size:18.00px;font-weight:bold;font-style:normal;color:#231f20;top:1026.23px;line-height:1;transform:scaleX(1.0333);transform-origin:0 0">2024</div>
<div class="t" style="left:588.30px;font-family:'Liberation Serif', serif;font-size:18.30px;font-weight:normal;font-style:normal;color:#231f20;top:1058.48px;line-height:1;transform:scaleX(0.9932);transform-origin:0 0">Mineral yakıtlar, mineral yağlar ve bunların damı-</div>
<div class="t" style="left:588.30px;font-family:'Liberation Serif', serif;font-size:18.30px;font-weight:normal;font-style:normal;color:#231f20;top:1078.98px;line-height:1">tılmasından elde edilen ürünler, mineral mumlar</div>
<div class="t" style="left:979.47px;font-family:'Liberation Serif', serif;font-size:18.30px;font-weight:normal;font-style:normal;color:#231f20;top:1069.48px;line-height:1">5.212.616</div>
<div class="t j" style="left:588.30px;width:364.80px;font-family:'Liberation Serif', serif;font-size:18.30px;font-weight:normal;font-style:normal;color:#231f20;top:1110.98px;line-height:1;transform:scaleX(1.0000);transform-origin:0 0">Kazanlar, makineler, mekanik cihazlar ve aletler,</div>
<div class="t" style="left:588.30px;font-family:'Liberation Serif', serif;font-size:18.30px;font-weight:normal;font-style:normal;color:#231f20;top:1131.88px;line-height:1">bunların parçaları</div>
<div class="t" style="left:979.47px;font-family:'Liberation Serif', serif;font-size:18.30px;font-weight:normal;font-style:normal;color:#231f20;top:1121.98px;line-height:1">3.394.579</div>
<div class="t j" style="left:588.30px;width:364.80px;font-family:'Liberation Serif', serif;font-size:18.30px;font-weight:normal;font-style:normal;color:#231f20;top:1163.18px;line-height:1;transform:scaleX(1.0000);transform-origin:0 0">Motorlu kara taşıtları, traktörler, bisikletler, mo-</div>
<div class="t" style="left:588.30px;font-family:'Liberation Serif', serif;font-size:18.30px;font-weight:normal;font-style:normal;color:#231f20;top:1184.18px;line-height:1;transform:scaleX(0.9831);transform-origin:0 0">tosikletler ve diğer kara taşıtları, bunların parçaları</div>
<div class="t" style="left:980.15px;font-family:'Liberation Serif', serif;font-size:18.30px;font-weight:normal;font-style:normal;color:#231f20;top:1173.98px;line-height:1">2.803.113</div>
<div class="t" style="left:588.30px;font-family:'Liberation Serif', serif;font-size:18.30px;font-weight:normal;font-style:normal;color:#231f20;top:1215.48px;line-height:1;transform:scaleX(0.9931);transform-origin:0 0">Kıymetli veya yarı kıymetli taşlar, kıymetli metal-</div>
<div class="t" style="left:588.30px;font-family:'Liberation Serif', serif;font-size:18.30px;font-weight:normal;font-style:normal;color:#231f20;top:1236.58px;line-height:1">ler, inciler, taklit mücevherci eşyası, metal paralar</div>
<div class="t" style="left:979.47px;font-family:'Liberation Serif', serif;font-size:18.30px;font-weight:normal;font-style:normal;color:#231f20;top:1225.68px;line-height:1">2.671.562</div>
<div class="t j" style="left:588.30px;width:364.80px;font-family:'Liberation Serif', serif;font-size:18.30px;font-weight:normal;font-style:normal;color:#231f20;top:1268.28px;line-height:1;transform:scaleX(1.0000);transform-origin:0 0">Elektrikli makine ve cihazlar, ses kaydetme-ver-</div>
<div class="t j" style="left:588.30px;width:364.80px;font-family:'Liberation Serif', serif;font-size:18.30px;font-weight:normal;font-style:normal;color:#231f20;top:1288.58px;line-height:1;transform:scaleX(1.0000);transform-origin:0 0">me, televizyon görüntü-ses kaydetme-verme ci-</div>
<div class="t" style="left:588.30px;font-family:'Liberation Serif', serif;font-size:18.30px;font-weight:normal;font-style:normal;color:#231f20;top:1308.88px;line-height:1">hazları, bunların parçaları</div>
<div class="t" style="left:979.47px;font-family:'Liberation Serif', serif;font-size:18.30px;font-weight:normal;font-style:normal;color:#231f20;top:1288.28px;line-height:1">2.082.410</div>
<div class="t" style="left:588.30px;font-family:'Liberation Serif', serif;font-size:18.30px;font-weight:normal;font-style:normal;color:#231f20;top:1341.48px;line-height:1">Demir ve çelik</div>
<div class="t" style="left:980.15px;font-family:'Liberation Serif', serif;font-size:18.30px;font-weight:normal;font-style:normal;color:#231f20;top:1341.28px;line-height:1">1.994.119</div>
<div class="t" style="left:588.30px;font-family:'Liberation Serif', serif;font-size:18.30px;font-weight:normal;font-style:normal;color:#231f20;top:1372.38px;line-height:1">Plastikler ve plastik ürünleri</div>
<div class="t" style="left:979.47px;font-family:'Liberation Serif', serif;font-size:18.30px;font-weight:normal;font-style:normal;color:#231f20;top:1371.88px;line-height:1">1.425.947</div>
<div class="t" style="left:588.30px;font-family:'Liberation Serif', serif;font-size:18.30px;font-weight:normal;font-style:normal;color:#231f20;top:1404.08px;line-height:1">Organik kimyasal ürünler</div>
<div class="t" style="left:993.18px;font-family:'Liberation Serif', serif;font-size:18.30px;font-weight:normal;font-style:normal;color:#231f20;top:1403.68px;line-height:1">776.955</div>
<div class="t" style="left:588.30px;font-family:'Liberation Serif', serif;font-size:18.30px;font-weight:normal;font-style:normal;color:#231f20;top:1435.78px;line-height:1">Bakır ve bakırdan eşya</div>
<div class="t" style="left:993.18px;font-family:'Liberation Serif', serif;font-size:18.30px;font-weight:normal;font-style:normal;color:#231f20;top:1435.08px;line-height:1">522.083</div>
<div class="t j" style="left:588.30px;width:364.80px;font-family:'Liberation Serif', serif;font-size:18.30px;font-weight:normal;font-style:normal;color:#231f20;top:1467.48px;line-height:1;transform:scaleX(1.0000);transform-origin:0 0">Optik, fotoğraf, sinema, ölçü, kontrol, ayar, tıbbi,</div>
<div class="t" style="left:588.30px;font-family:'Liberation Serif', serif;font-size:18.30px;font-weight:normal;font-style:normal;color:#231f20;top:1487.78px;line-height:1">cerrahi alet ve cihazlar, bunların parçaları</div>
<div class="t" style="left:993.18px;font-family:'Liberation Serif', serif;font-size:18.30px;font-weight:normal;font-style:normal;color:#231f20;top:1477.28px;line-height:1">521.339</div>
<div class="t" style="left:925.00px;font-family:'Liberation Serif', serif;font-size:18.50px;font-weight:bold;font-style:italic;color:#231f20;top:1517.61px;line-height:1;transform:scaleX(1.0778);transform-origin:0 0">www.tuik.gov.tr</div>
<div class="t" style="left:95.90px;font-family:'Liberation Serif', serif;font-size:24.50px;font-weight:bold;font-style:normal;color:#231f20;top:1539.68px;line-height:1;transform:scaleX(0.8980);transform-origin:0 0">254</div>
<div class="t" style="left:648.30px;font-family:'Liberation Sans', sans-serif;font-size:19.80px;font-weight:normal;font-style:normal;letter-spacing:0.45px;color:#d4213a;top:947.54px;line-height:1;-webkit-text-stroke:0.12px #d4213a;transform:scaleX(1.0822);transform-origin:0 0">İthal ürünlerin etiketlerinde genellikle Çin, Türkiye,</div>
<div class="t" style="left:648.30px;font-family:'Liberation Sans', sans-serif;font-size:19.80px;font-weight:normal;font-style:normal;letter-spacing:0.45px;color:#d4213a;top:976.34px;line-height:1;-webkit-text-stroke:0.12px #d4213a;transform:scaleX(1.0602);transform-origin:0 0">Almanya, Amerika Birleşik Devletleri, ve İtalya gibi</div>
<div class="t" style="left:648.30px;font-family:'Liberation Sans', sans-serif;font-size:19.80px;font-weight:normal;font-style:normal;letter-spacing:0.45px;color:#d4213a;top:1005.04px;line-height:1;-webkit-text-stroke:0.12px #d4213a;transform:scaleX(1.0854);transform-origin:0 0">ülkelerin adlarına rastlanır.</div>
<div class="t" style="left:21.30px;font-family:'Liberation Sans', sans-serif;font-size:19.80px;font-weight:normal;font-style:normal;letter-spacing:0.45px;color:#d4213a;top:1628.84px;line-height:1;-webkit-text-stroke:0.12px #d4213a;transform:scaleX(1.0758);transform-origin:0 0">Türkiye’nin diğer ülkelerle ekonomik ilişkileri şunları içerir:</div>
<div class="t" style="left:21.30px;font-family:'Liberation Sans', sans-serif;font-size:19.80px;font-weight:normal;font-style:normal;letter-spacing:0.45px;color:#d4213a;top:1686.04px;line-height:1;-webkit-text-stroke:0.12px #d4213a;transform:scaleX(1.0594);transform-origin:0 0">Ticaret: İhracat ve ithalat yaparak küresel pazarda yer alır.</div>
<div class="t" style="left:21.30px;font-family:'Liberation Sans', sans-serif;font-size:19.80px;font-weight:normal;font-style:normal;letter-spacing:0.45px;color:#d4213a;top:1715.64px;line-height:1;-webkit-text-stroke:0.12px #d4213a;transform:scaleX(1.0392);transform-origin:0 0">Yatırımlar: Yabancı yatırımları çekerek ekonomik büyümeyi destekler.</div>
<div class="t" style="left:21.30px;font-family:'Liberation Sans', sans-serif;font-size:19.80px;font-weight:normal;font-style:normal;letter-spacing:0.45px;color:#d4213a;top:1745.24px;line-height:1;-webkit-text-stroke:0.12px #d4213a;transform:scaleX(1.0503);transform-origin:0 0">Enerji İş Birliği: Enerji kaynakları ve enerji geçiş yollarında iş birliği yapar.</div>
<div class="t" style="left:21.30px;font-family:'Liberation Sans', sans-serif;font-size:19.80px;font-weight:normal;font-style:normal;letter-spacing:0.45px;color:#d4213a;top:1774.84px;line-height:1;-webkit-text-stroke:0.12px #d4213a;transform:scaleX(1.0694);transform-origin:0 0">Altyapı ve Projeler: Uluslararası altyapı projelerine katılır ve projeler geliştirir.</div>
</div>
</body></html>
